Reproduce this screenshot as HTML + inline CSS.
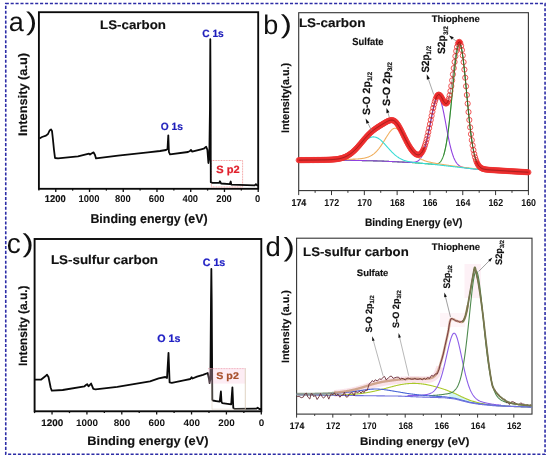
<!DOCTYPE html>
<html><head><meta charset="utf-8"><style>
html,body{margin:0;padding:0;background:#fff;}
svg{display:block;will-change:transform;}
text{font-family:"Liberation Sans", sans-serif;text-rendering:geometricPrecision;}
</style></head><body>
<svg width="550" height="459" viewBox="0 0 550 459">
<rect x="0" y="0" width="550" height="459" fill="#fff"/>

<rect class="deco" x="5.75" y="3.55" width="539.3" height="450.75" fill="none" stroke="#2c2ca6" stroke-width="1.6" stroke-dasharray="3.1 1.8"/>
<text class="plbl" x="8.8" y="30.5" font-size="27" fill="#111">a</text>
<text class="plbl" transform="translate(25.9,30.0) scale(1.3,1)" font-size="25.6" fill="#111">)</text>
<text class="plbl" x="263.2" y="33.9" font-size="27" fill="#111">b</text>
<text class="plbl" transform="translate(280.8,33.2) scale(1.3,1)" font-size="25.8" fill="#111">)</text>
<text class="plbl" x="6.7" y="252.6" font-size="28" fill="#111">c</text>
<text class="plbl" transform="translate(22.5,252.0) scale(1.3,1)" font-size="25.8" fill="#111">)</text>
<text class="plbl" x="265.5" y="256.4" font-size="27.5" fill="#111">d</text>
<text class="plbl" transform="translate(283.5,256.4) scale(1.3,1)" font-size="26.2" fill="#111">)</text>
<rect x="38.9" y="12.2" width="219.29999999999998" height="176.60000000000002" fill="none" stroke="#0a0a0a" stroke-width="1.85"/>
<line x1="258.20" y1="188.8" x2="258.20" y2="192.0" stroke="#111" stroke-width="1.3"/>
<line x1="241.33" y1="188.8" x2="241.33" y2="190.60000000000002" stroke="#111" stroke-width="1.3"/>
<line x1="224.46" y1="188.8" x2="224.46" y2="192.0" stroke="#111" stroke-width="1.3"/>
<line x1="207.59" y1="188.8" x2="207.59" y2="190.60000000000002" stroke="#111" stroke-width="1.3"/>
<line x1="190.72" y1="188.8" x2="190.72" y2="192.0" stroke="#111" stroke-width="1.3"/>
<line x1="173.85" y1="188.8" x2="173.85" y2="190.60000000000002" stroke="#111" stroke-width="1.3"/>
<line x1="156.98" y1="188.8" x2="156.98" y2="192.0" stroke="#111" stroke-width="1.3"/>
<line x1="140.12" y1="188.8" x2="140.12" y2="190.60000000000002" stroke="#111" stroke-width="1.3"/>
<line x1="123.25" y1="188.8" x2="123.25" y2="192.0" stroke="#111" stroke-width="1.3"/>
<line x1="106.38" y1="188.8" x2="106.38" y2="190.60000000000002" stroke="#111" stroke-width="1.3"/>
<line x1="89.51" y1="188.8" x2="89.51" y2="192.0" stroke="#111" stroke-width="1.3"/>
<line x1="72.64" y1="188.8" x2="72.64" y2="190.60000000000002" stroke="#111" stroke-width="1.3"/>
<line x1="55.77" y1="188.8" x2="55.77" y2="192.0" stroke="#111" stroke-width="1.3"/>
<line x1="38.90" y1="188.8" x2="38.90" y2="190.60000000000002" stroke="#111" stroke-width="1.3"/>
<text class="lbl" transform="translate(257.73,202.34) scale(0.9509,1)" font-size="9.9" font-weight="bold" fill="#111" text-anchor="middle">0</text>
<text class="lbl" transform="translate(223.99,202.34) scale(0.9509,1)" font-size="9.9" font-weight="bold" fill="#111" text-anchor="middle">200</text>
<text class="lbl" transform="translate(190.25,202.34) scale(0.9509,1)" font-size="9.9" font-weight="bold" fill="#111" text-anchor="middle">400</text>
<text class="lbl" transform="translate(156.52,202.34) scale(0.9509,1)" font-size="9.9" font-weight="bold" fill="#111" text-anchor="middle">600</text>
<text class="lbl" transform="translate(122.78,202.34) scale(0.9509,1)" font-size="9.9" font-weight="bold" fill="#111" text-anchor="middle">800</text>
<text class="lbl" transform="translate(89.04,202.34) scale(0.9509,1)" font-size="9.9" font-weight="bold" fill="#111" text-anchor="middle">1000</text>
<text id="a_t1200" class="lbl" transform="translate(55.30,202.34) scale(0.9509,1)" font-size="9.9" font-weight="bold" fill="#111" stroke="#111" stroke-width="0.16" text-anchor="middle">1200</text>
<text id="a_title" class="lbl" transform="translate(100.10,29.06) scale(1.0747,1)" font-size="12.4" font-weight="bold" fill="#111" stroke="#111" stroke-width="0.16">LS-carbon</text>
<text id="a_c1s" class="lbl" transform="translate(202.34,36.61) scale(0.9645,1)" font-size="10.5" font-weight="bold" fill="#1e1eba" stroke="#1e1eba" stroke-width="0.22">C 1s</text>
<text id="a_o1s" class="lbl" transform="translate(160.78,129.97) scale(0.9699,1)" font-size="10.5" font-weight="bold" fill="#1e1eba" stroke="#1e1eba" stroke-width="0.22">O 1s</text>
<text id="a_xl" class="lbl" transform="translate(90.39,222.89) scale(0.9701,1)" font-size="12.8" font-weight="bold" fill="#111" stroke="#111" stroke-width="0.16">Binding energy (eV)</text>
<text id="a_yl" class="lbl" transform="translate(27.25,136.08) rotate(-90) scale(1.0326,1)" font-size="12.4" font-weight="bold" fill="#111" stroke="#111" stroke-width="0.16">Intensity (a.u)</text>
<rect x="211.4" y="160.5" width="31.2" height="26.5" fill="none" stroke="#f08a8a" stroke-width="0.8" stroke-dasharray="1 0.6"/>
<text id="a_sp2" class="lbl" transform="translate(216.25,172.97) scale(1.0516,1)" font-size="10.5" font-weight="bold" fill="#e0202c" stroke="#e0202c" stroke-width="0.22">S p2</text>
<polyline points="39.50,138.50 42.00,137.00 46.00,135.60 48.00,134.00 49.60,130.50 51.00,129.40 52.00,131.00 53.00,140.00 54.00,150.00 55.00,158.00 58.00,158.40 78.00,156.40 86.00,154.40 89.00,153.60 90.00,154.50 91.50,153.50 93.60,152.40 95.00,155.00 96.00,158.40 118.00,155.60 148.00,152.40 160.00,151.00 166.00,150.00 167.50,149.00 168.30,135.40 168.90,152.00 170.00,154.40 188.00,152.00 190.00,151.00 191.00,150.00 192.00,151.60 201.20,149.30 203.70,148.70 206.20,146.80 207.40,149.90 208.40,163.00 209.30,157.40 209.95,110.00 210.30,39.20 210.65,110.00 210.80,182.20 212.40,182.80 219.20,182.80 219.90,181.30 221.10,183.50 229.80,184.10 230.70,181.50 231.30,184.70 254.70,185.30 255.90,184.10 257.10,185.30 258.00,185.30" fill="none" stroke="#0a0a0a" stroke-width="1.8" stroke-linejoin="round"/>
<rect x="34.6" y="239.0" width="226.70000000000002" height="172.3" fill="none" stroke="#0a0a0a" stroke-width="1.9"/>
<line x1="261.30" y1="411.3" x2="261.30" y2="414.5" stroke="#111" stroke-width="1.3"/>
<line x1="243.86" y1="411.3" x2="243.86" y2="413.1" stroke="#111" stroke-width="1.3"/>
<line x1="226.42" y1="411.3" x2="226.42" y2="414.5" stroke="#111" stroke-width="1.3"/>
<line x1="208.98" y1="411.3" x2="208.98" y2="413.1" stroke="#111" stroke-width="1.3"/>
<line x1="191.55" y1="411.3" x2="191.55" y2="414.5" stroke="#111" stroke-width="1.3"/>
<line x1="174.11" y1="411.3" x2="174.11" y2="413.1" stroke="#111" stroke-width="1.3"/>
<line x1="156.67" y1="411.3" x2="156.67" y2="414.5" stroke="#111" stroke-width="1.3"/>
<line x1="139.23" y1="411.3" x2="139.23" y2="413.1" stroke="#111" stroke-width="1.3"/>
<line x1="121.79" y1="411.3" x2="121.79" y2="414.5" stroke="#111" stroke-width="1.3"/>
<line x1="104.35" y1="411.3" x2="104.35" y2="413.1" stroke="#111" stroke-width="1.3"/>
<line x1="86.92" y1="411.3" x2="86.92" y2="414.5" stroke="#111" stroke-width="1.3"/>
<line x1="69.48" y1="411.3" x2="69.48" y2="413.1" stroke="#111" stroke-width="1.3"/>
<line x1="52.04" y1="411.3" x2="52.04" y2="414.5" stroke="#111" stroke-width="1.3"/>
<line x1="34.60" y1="411.3" x2="34.60" y2="413.1" stroke="#111" stroke-width="1.3"/>
<text class="lbl" transform="translate(261.46,425.56) scale(1.0416,1)" font-size="9.5" font-weight="bold" fill="#111" text-anchor="middle">0</text>
<text class="lbl" transform="translate(226.58,425.56) scale(1.0416,1)" font-size="9.5" font-weight="bold" fill="#111" text-anchor="middle">200</text>
<text class="lbl" transform="translate(191.71,425.56) scale(1.0416,1)" font-size="9.5" font-weight="bold" fill="#111" text-anchor="middle">400</text>
<text class="lbl" transform="translate(156.83,425.56) scale(1.0416,1)" font-size="9.5" font-weight="bold" fill="#111" text-anchor="middle">600</text>
<text class="lbl" transform="translate(121.95,425.56) scale(1.0416,1)" font-size="9.5" font-weight="bold" fill="#111" text-anchor="middle">800</text>
<text class="lbl" transform="translate(87.08,425.56) scale(1.0416,1)" font-size="9.5" font-weight="bold" fill="#111" text-anchor="middle">1000</text>
<text id="c_t1200" class="lbl" transform="translate(52.20,425.56) scale(1.0416,1)" font-size="9.5" font-weight="bold" fill="#111" stroke="#111" stroke-width="0.16" text-anchor="middle">1200</text>
<text id="c_title" class="lbl" transform="translate(50.90,263.89) scale(1.0630,1)" font-size="12.6" font-weight="bold" fill="#111" stroke="#111" stroke-width="0.16">LS-sulfur carbon</text>
<text id="c_c1s" class="lbl" transform="translate(202.75,266.31) scale(0.9887,1)" font-size="10.8" font-weight="bold" fill="#2020c4" stroke="#2020c4" stroke-width="0.22">C 1s</text>
<text id="c_o1s" class="lbl" transform="translate(157.29,342.13) scale(0.9919,1)" font-size="10.8" font-weight="bold" fill="#2020c4" stroke="#2020c4" stroke-width="0.22">O 1s</text>
<text id="c_xl" class="lbl" transform="translate(87.36,444.86) scale(1.0353,1)" font-size="12.4" font-weight="bold" fill="#111" stroke="#111" stroke-width="0.16">Binding energy (eV)</text>
<text id="c_yl" class="lbl" transform="translate(26.95,366.03) rotate(-90) scale(0.9886,1)" font-size="12.0" font-weight="bold" fill="#111" stroke="#111" stroke-width="0.16">Intensity (a.u.)</text>
<polyline points="34.80,379.70 40.90,379.70 45.30,376.30 47.00,374.70 48.50,377.00 50.70,387.80 51.80,390.70 62.70,390.00 84.50,386.30 86.00,385.00 87.20,384.10 88.50,386.30 91.10,383.50 93.30,388.90 95.50,389.30 117.30,386.80 150.00,381.30 158.70,378.40 165.30,377.00 167.00,378.00 168.50,352.90 169.60,382.40 171.80,382.80 185.00,380.10 190.40,379.00 191.60,377.20 192.50,378.50 197.00,376.60 203.00,374.80 207.80,373.00 209.00,379.00 209.60,383.10 210.40,379.00 211.00,300.00 211.35,269.00 211.70,300.00 212.30,399.80 212.80,400.50 216.10,401.10 219.70,401.70 220.90,391.50 221.50,401.70 222.20,403.20 227.60,403.80 231.20,404.40 232.40,387.30 233.30,408.00 234.80,408.90 256.40,408.60 257.60,407.70 259.40,409.00 261.00,409.00" fill="none" stroke="#0a0a0a" stroke-width="1.8" stroke-linejoin="round"/>
<rect x="208.2" y="368.4" width="37.2" height="15.2" fill="#f9c6dc" fill-opacity="0.32"/>
<line x1="208.2" y1="368.6" x2="245.4" y2="368.6" stroke="#eea0b0" stroke-width="0.8" stroke-dasharray="1 0.6"/>
<line x1="245.3" y1="368.4" x2="245.3" y2="409.5" stroke="#d8c8b4" stroke-width="0.8"/>
<line x1="212.0" y1="383.5" x2="212.0" y2="409.5" stroke="#e0d4c8" stroke-width="0.6"/>
<line x1="212.0" y1="409.2" x2="245.3" y2="409.2" stroke="#e0d4c8" stroke-width="0.6"/>
<text id="c_sp2" class="lbl" transform="translate(216.28,379.43) scale(1.0891,1)" font-size="9.8" font-weight="bold" fill="#a8522e" stroke="#a8522e" stroke-width="0.22">S p2</text>
<rect x="298.7" y="12.7" width="229.7" height="177.9" fill="none" stroke="#333" stroke-width="1.1"/>
<line x1="528.40" y1="190.6" x2="528.40" y2="195.1" stroke="#333" stroke-width="1.0"/>
<line x1="511.99" y1="190.6" x2="511.99" y2="192.79999999999998" stroke="#333" stroke-width="1.0"/>
<line x1="495.59" y1="190.6" x2="495.59" y2="195.1" stroke="#333" stroke-width="1.0"/>
<line x1="479.18" y1="190.6" x2="479.18" y2="192.79999999999998" stroke="#333" stroke-width="1.0"/>
<line x1="462.77" y1="190.6" x2="462.77" y2="195.1" stroke="#333" stroke-width="1.0"/>
<line x1="446.36" y1="190.6" x2="446.36" y2="192.79999999999998" stroke="#333" stroke-width="1.0"/>
<line x1="429.96" y1="190.6" x2="429.96" y2="195.1" stroke="#333" stroke-width="1.0"/>
<line x1="413.55" y1="190.6" x2="413.55" y2="192.79999999999998" stroke="#333" stroke-width="1.0"/>
<line x1="397.14" y1="190.6" x2="397.14" y2="195.1" stroke="#333" stroke-width="1.0"/>
<line x1="380.74" y1="190.6" x2="380.74" y2="192.79999999999998" stroke="#333" stroke-width="1.0"/>
<line x1="364.33" y1="190.6" x2="364.33" y2="195.1" stroke="#333" stroke-width="1.0"/>
<line x1="347.92" y1="190.6" x2="347.92" y2="192.79999999999998" stroke="#333" stroke-width="1.0"/>
<line x1="331.51" y1="190.6" x2="331.51" y2="195.1" stroke="#333" stroke-width="1.0"/>
<line x1="315.11" y1="190.6" x2="315.11" y2="192.79999999999998" stroke="#333" stroke-width="1.0"/>
<line x1="298.70" y1="190.6" x2="298.70" y2="195.1" stroke="#333" stroke-width="1.0"/>
<text class="lbl" transform="translate(528.60,206.48) scale(0.8868,1)" font-size="10.0" font-weight="bold" fill="#111" text-anchor="middle">160</text>
<text class="lbl" transform="translate(495.79,206.48) scale(0.8868,1)" font-size="10.0" font-weight="bold" fill="#111" text-anchor="middle">162</text>
<text class="lbl" transform="translate(462.97,206.48) scale(0.8868,1)" font-size="10.0" font-weight="bold" fill="#111" text-anchor="middle">164</text>
<text class="lbl" transform="translate(430.16,206.48) scale(0.8868,1)" font-size="10.0" font-weight="bold" fill="#111" text-anchor="middle">166</text>
<text class="lbl" transform="translate(397.34,206.48) scale(0.8868,1)" font-size="10.0" font-weight="bold" fill="#111" text-anchor="middle">168</text>
<text class="lbl" transform="translate(364.53,206.48) scale(0.8868,1)" font-size="10.0" font-weight="bold" fill="#111" text-anchor="middle">170</text>
<text class="lbl" transform="translate(331.71,206.48) scale(0.8868,1)" font-size="10.0" font-weight="bold" fill="#111" text-anchor="middle">172</text>
<text id="b_t174" class="lbl" transform="translate(298.90,206.48) scale(0.8868,1)" font-size="10.0" font-weight="bold" fill="#111" stroke="#111" stroke-width="0.16" text-anchor="middle">174</text>
<text id="b_title" class="lbl" transform="translate(298.90,27.36) scale(1.0858,1)" font-size="12.4" font-weight="bold" fill="#111" stroke="#111" stroke-width="0.16">LS-carbon</text>
<text id="b_sulf" class="lbl" transform="translate(352.36,44.81) scale(0.9185,1)" font-size="10.2" font-weight="bold" fill="#111" stroke="#111" stroke-width="0.16">Sulfate</text>
<text id="b_thio" class="lbl" transform="translate(431.70,21.66) scale(1.0141,1)" font-size="9.4" font-weight="bold" fill="#111" stroke="#111" stroke-width="0.16">Thiophene</text>
<text id="b_xl" class="lbl" transform="translate(364.89,225.96) scale(0.9373,1)" font-size="10.9" font-weight="bold" fill="#111" stroke="#111" stroke-width="0.16">Binding Energy (eV)</text>
<text id="b_yl" class="lbl" transform="translate(288.68,133.02) rotate(-90) scale(0.9804,1)" font-size="11.0" font-weight="bold" fill="#111" stroke="#111" stroke-width="0.16">Intensity(a.u.)</text>
<text id="b_so12" class="lbl" transform="translate(369.76,115.00) rotate(-90) scale(1.0016,1)" font-size="10.5" font-weight="bold" fill="#111" stroke="#111" stroke-width="0.16">S-O 2p<tspan font-size="6.6" dy="2.3">1/2</tspan></text>
<text id="b_so32" class="lbl" transform="translate(389.56,106.06) rotate(-90) scale(1.0260,1)" font-size="10.5" font-weight="bold" fill="#111" stroke="#111" stroke-width="0.16">S-O 2p<tspan font-size="6.6" dy="2.3">3/2</tspan></text>
<text id="b_s12" class="lbl" transform="translate(429.12,72.61) rotate(-90) scale(0.9446,1)" font-size="10.5" font-weight="bold" fill="#111" stroke="#111" stroke-width="0.16">S2p<tspan font-size="6.6" dy="2.3">1/2</tspan></text>
<text id="b_s32" class="lbl" transform="translate(445.44,54.00) rotate(-90) scale(0.9805,1)" font-size="10.5" font-weight="bold" fill="#111" stroke="#111" stroke-width="0.16">S2p<tspan font-size="6.6" dy="2.3">3/2</tspan></text>
<polyline points="298.70,160.40 299.03,160.40 299.36,160.40 299.68,160.40 300.01,160.40 300.34,160.40 300.67,160.40 301.00,160.40 301.33,160.39 301.65,160.39 301.98,160.39 302.31,160.39 302.64,160.39 302.97,160.39 303.29,160.39 303.62,160.39 303.95,160.39 304.28,160.39 304.61,160.39 304.93,160.39 305.26,160.39 305.59,160.39 305.92,160.39 306.25,160.39 306.58,160.38 306.90,160.38 307.23,160.38 307.56,160.38 307.89,160.38 308.22,160.38 308.54,160.38 308.87,160.38 309.20,160.38 309.53,160.38 309.86,160.38 310.18,160.38 310.51,160.38 310.84,160.38 311.17,160.38 311.50,160.38 311.83,160.37 312.15,160.37 312.48,160.37 312.81,160.37 313.14,160.37 313.47,160.37 313.79,160.37 314.12,160.37 314.45,160.37 314.78,160.37 315.11,160.37 315.44,160.37 315.76,160.37 316.09,160.37 316.42,160.37 316.75,160.36 317.08,160.36 317.40,160.36 317.73,160.36 318.06,160.36 318.39,160.36 318.72,160.36 319.04,160.36 319.37,160.36 319.70,160.36 320.03,160.36 320.36,160.36 320.69,160.36 321.01,160.36 321.34,160.36 321.67,160.36 322.00,160.35 322.33,160.35 322.65,160.35 322.98,160.35 323.31,160.35 323.64,160.35 323.97,160.35 324.30,160.35 324.62,160.35 324.95,160.35 325.28,160.35 325.61,160.35 325.94,160.35 326.26,160.35 326.59,160.35 326.92,160.34 327.25,160.34 327.58,160.34 327.90,160.34 328.23,160.34 328.56,160.34 328.89,160.34 329.22,160.34 329.55,160.34 329.87,160.34 330.20,160.34 330.53,160.34 330.86,160.34 331.19,160.34 331.51,160.34 331.84,160.34 332.17,160.33 332.50,160.33 332.83,160.33 333.15,160.33 333.48,160.33 333.81,160.33 334.14,160.33 334.47,160.33 334.80,160.33 335.12,160.33 335.45,160.33 335.78,160.33 336.11,160.33 336.44,160.33 336.76,160.33 337.09,160.33 337.42,160.32 337.75,160.32 338.08,160.32 338.41,160.32 338.73,160.32 339.06,160.32 339.39,160.32 339.72,160.32 340.05,160.32 340.37,160.32 340.70,160.32 341.03,160.32 341.36,160.32 341.69,160.32 342.01,160.32 342.34,160.31 342.67,160.31 343.00,160.31 343.33,160.31 343.66,160.31 343.98,160.31 344.31,160.31 344.64,160.31 344.97,160.31 345.30,160.31 345.62,160.31 345.95,160.31 346.28,160.31 346.61,160.31 346.94,160.31 347.27,160.31 347.59,160.30 347.92,160.30 348.25,160.30 348.58,160.30 348.91,160.30 349.23,160.30 349.56,160.30 349.89,160.30 350.22,160.31 350.55,160.31 350.87,160.32 351.20,160.33 351.53,160.34 351.86,160.34 352.19,160.35 352.52,160.36 352.84,160.37 353.17,160.37 353.50,160.38 353.83,160.39 354.16,160.40 354.48,160.40 354.81,160.41 355.14,160.42 355.47,160.43 355.80,160.43 356.12,160.44 356.45,160.45 356.78,160.46 357.11,160.46 357.44,160.47 357.77,160.48 358.09,160.49 358.42,160.49 358.75,160.50 359.08,160.51 359.41,160.52 359.73,160.52 360.06,160.53 360.39,160.54 360.72,160.55 361.05,160.55 361.38,160.56 361.70,160.57 362.03,160.58 362.36,160.58 362.69,160.59 363.02,160.60 363.34,160.61 363.67,160.61 364.00,160.62 364.33,160.63 364.66,160.64 364.98,160.64 365.31,160.65 365.64,160.66 365.97,160.67 366.30,160.67 366.63,160.68 366.95,160.69 367.28,160.70 367.61,160.70 367.94,160.71 368.27,160.72 368.59,160.73 368.92,160.73 369.25,160.74 369.58,160.75 369.91,160.76 370.24,160.76 370.56,160.77 370.89,160.78 371.22,160.79 371.55,160.79 371.88,160.80 372.20,160.81 372.53,160.82 372.86,160.82 373.19,160.83 373.52,160.84 373.84,160.85 374.17,160.85 374.50,160.86 374.83,160.87 375.16,160.88 375.49,160.88 375.81,160.89 376.14,160.90 376.47,160.91 376.80,160.92 377.13,160.92 377.45,160.93 377.78,160.94 378.11,160.95 378.44,160.95 378.77,160.96 379.10,160.97 379.42,160.98 379.75,160.98 380.08,160.99 380.41,161.00 380.74,161.01 381.06,161.03 381.39,161.04 381.72,161.06 382.05,161.08 382.38,161.09 382.70,161.11 383.03,161.12 383.36,161.14 383.69,161.16 384.02,161.17 384.35,161.19 384.67,161.21 385.00,161.22 385.33,161.24 385.66,161.25 385.99,161.27 386.31,161.29 386.64,161.30 386.97,161.32 387.30,161.33 387.63,161.35 387.95,161.37 388.28,161.38 388.61,161.40 388.94,161.42 389.27,161.43 389.60,161.45 389.92,161.46 390.25,161.48 390.58,161.50 390.91,161.51 391.24,161.53 391.56,161.54 391.89,161.56 392.22,161.58 392.55,161.59 392.88,161.61 393.21,161.62 393.53,161.64 393.86,161.66 394.19,161.67 394.52,161.69 394.85,161.71 395.17,161.72 395.50,161.74 395.83,161.75 396.16,161.77 396.49,161.79 396.81,161.80 397.14,161.82 397.47,161.83 397.80,161.85 398.13,161.87 398.46,161.88 398.78,161.90 399.11,161.92 399.44,161.93 399.77,161.95 400.10,161.96 400.42,161.98 400.75,162.00 401.08,162.01 401.41,162.03 401.74,162.04 402.07,162.06 402.39,162.08 402.72,162.09 403.05,162.11 403.38,162.13 403.71,162.14 404.03,162.16 404.36,162.17 404.69,162.19 405.02,162.21 405.35,162.22 405.67,162.24 406.00,162.25 406.33,162.27 406.66,162.29 406.99,162.30 407.32,162.32 407.64,162.33 407.97,162.35 408.30,162.37 408.63,162.38 408.96,162.40 409.28,162.42 409.61,162.43 409.94,162.45 410.27,162.46 410.60,162.48 410.92,162.50 411.25,162.52 411.58,162.55 411.91,162.57 412.24,162.60 412.57,162.62 412.89,162.65 413.22,162.68 413.55,162.70 413.88,162.73 414.21,162.75 414.53,162.78 414.86,162.80 415.19,162.83 415.52,162.86 415.85,162.88 416.18,162.91 416.50,162.93 416.83,162.96 417.16,162.99 417.49,163.01 417.82,163.04 418.14,163.06 418.47,163.09 418.80,163.12 419.13,163.14 419.46,163.17 419.78,163.19 420.11,163.22 420.44,163.25 420.77,163.27 421.10,163.30 421.43,163.32 421.75,163.35 422.08,163.37 422.41,163.40 422.74,163.43 423.07,163.45 423.39,163.48 423.72,163.50 424.05,163.53 424.38,163.56 424.71,163.58 425.03,163.61 425.36,163.63 425.69,163.66 426.02,163.68 426.35,163.71 426.68,163.73 427.00,163.76 427.33,163.78 427.66,163.81 427.99,163.83 428.32,163.86 428.64,163.88 428.97,163.91 429.30,163.93 429.63,163.95 429.96,163.97 430.29,164.00 430.61,164.04 430.94,164.07 431.27,164.10 431.60,164.12 431.93,164.15 432.25,164.17 432.58,164.19 432.91,164.21 433.24,164.23 433.57,164.24 433.89,164.25 434.22,164.25 434.55,164.25 434.88,164.24 435.21,164.22 435.54,164.19 435.86,164.16 436.19,164.11 436.52,164.06 436.85,163.98 437.18,163.90 437.50,163.80 437.83,163.67 438.16,163.53 438.49,163.36 438.82,163.17 439.15,162.95 439.47,162.69 439.80,162.41 440.13,162.08 440.46,161.71 440.79,161.30 441.11,160.84 441.44,160.33 441.77,159.75 442.10,159.12 442.43,158.42 442.75,157.66 443.08,156.81 443.41,155.89 443.74,154.89 444.07,153.80 444.40,152.61 444.72,151.33 445.05,149.95 445.38,148.46 445.71,146.87 446.04,145.17 446.36,143.36 446.69,141.43 447.02,139.39 447.35,137.23 447.68,134.95 448.00,132.56 448.33,130.06 448.66,127.44 448.99,124.72 449.32,121.89 449.65,118.97 449.97,115.95 450.30,112.85 450.63,109.67 450.96,106.43 451.29,103.13 451.61,99.79 451.94,96.41 452.27,93.02 452.60,89.62 452.93,86.23 453.26,82.86 453.58,79.53 453.91,76.26 454.24,73.06 454.57,69.96 454.90,66.95 455.22,64.07 455.55,61.33 455.88,58.74 456.21,56.32 456.54,54.08 456.86,52.04 457.19,50.21 457.52,48.60 457.85,47.22 458.18,46.08 458.51,45.18 458.83,44.54 459.16,44.15 459.49,44.02 459.82,44.16 460.15,44.55 460.47,45.20 460.80,46.11 461.13,47.26 461.46,48.65 461.79,50.28 462.12,52.13 462.44,54.19 462.77,56.45 463.10,58.90 463.43,61.52 463.76,64.30 464.08,67.22 464.41,70.27 464.74,73.43 465.07,76.68 465.40,80.00 465.72,83.39 466.05,86.82 466.38,90.28 466.71,93.76 467.04,97.23 467.37,100.68 467.69,104.11 468.02,107.50 468.35,110.83 468.68,114.10 469.01,117.29 469.33,120.41 469.66,123.43 469.99,126.36 470.32,129.18 470.65,131.90 470.98,134.51 471.30,137.00 471.63,139.38 471.96,141.65 472.29,143.79 472.62,145.82 472.94,147.74 473.27,149.55 473.60,151.24 473.93,152.83 474.26,154.31 474.58,155.69 474.91,156.97 475.24,158.16 475.57,159.26 475.90,160.28 476.23,161.21 476.55,162.05 476.88,162.83 477.21,163.54 477.54,164.19 477.87,164.78 478.19,165.31 478.52,165.80 478.85,166.24 479.18,166.63 479.51,166.99 479.83,167.31 480.16,167.60 480.49,167.86 480.82,168.10 481.15,168.31 481.48,168.50 481.80,168.67 482.13,168.82 482.46,168.95 482.79,169.07 483.12,169.18 483.44,169.28 483.77,169.37 484.10,169.45 484.43,169.52 484.76,169.59 485.09,169.65 485.41,169.70 485.74,169.75 486.07,169.80 486.40,169.84 486.73,169.88 487.05,169.92 487.38,169.95 487.71,169.99 488.04,170.02 488.37,170.05 488.69,170.08 489.02,170.11 489.35,170.13 489.68,170.16 490.01,170.19 490.34,170.21 490.66,170.23 490.99,170.25 491.32,170.27 491.65,170.29 491.98,170.31 492.30,170.33 492.63,170.35 492.96,170.37 493.29,170.39 493.62,170.41 493.95,170.42 494.27,170.44 494.60,170.46 494.93,170.48 495.26,170.50 495.59,170.52 495.91,170.54 496.24,170.56 496.57,170.58 496.90,170.60 497.23,170.61 497.55,170.63 497.88,170.65 498.21,170.67 498.54,170.69 498.87,170.71 499.20,170.73 499.52,170.75 499.85,170.76 500.18,170.78 500.51,170.80 500.84,170.82 501.16,170.84 501.49,170.86 501.82,170.88 502.15,170.90 502.48,170.91 502.80,170.93 503.13,170.95 503.46,170.97 503.79,170.99 504.12,171.01 504.45,171.03 504.77,171.05 505.10,171.07 505.43,171.08 505.76,171.10 506.09,171.12 506.41,171.14 506.74,171.16 507.07,171.18 507.40,171.20 507.73,171.22 508.06,171.23 508.38,171.25 508.71,171.27 509.04,171.29 509.37,171.31 509.70,171.33 510.02,171.35 510.35,171.37 510.68,171.38 511.01,171.40 511.34,171.42 511.66,171.44 511.99,171.46 512.32,171.48 512.65,171.50 512.98,171.52 513.31,171.54 513.63,171.55 513.96,171.57 514.29,171.59 514.62,171.61 514.95,171.63 515.27,171.65 515.60,171.67 515.93,171.69 516.26,171.70 516.59,171.72 516.92,171.74 517.24,171.76 517.57,171.78 517.90,171.80 518.23,171.82 518.56,171.84 518.88,171.85 519.21,171.87 519.54,171.89 519.87,171.91 520.20,171.93 520.52,171.95 520.85,171.97 521.18,171.99 521.51,172.01 521.84,172.02 522.17,172.04 522.49,172.06 522.82,172.08 523.15,172.10 523.48,172.12 523.81,172.14 524.13,172.16 524.46,172.17 524.79,172.19 525.12,172.21 525.45,172.23 525.77,172.25 526.10,172.27 526.43,172.29 526.76,172.31 527.09,172.32 527.42,172.34 527.74,172.36 528.07,172.38 528.40,172.40" fill="none" stroke="#3a983a" stroke-width="1.1"/>
<polyline points="298.70,160.40 299.03,160.40 299.36,160.40 299.68,160.40 300.01,160.40 300.34,160.40 300.67,160.40 301.00,160.40 301.33,160.39 301.65,160.39 301.98,160.39 302.31,160.39 302.64,160.39 302.97,160.39 303.29,160.39 303.62,160.39 303.95,160.39 304.28,160.39 304.61,160.39 304.93,160.39 305.26,160.39 305.59,160.39 305.92,160.39 306.25,160.39 306.58,160.38 306.90,160.38 307.23,160.38 307.56,160.38 307.89,160.38 308.22,160.38 308.54,160.38 308.87,160.38 309.20,160.38 309.53,160.38 309.86,160.38 310.18,160.38 310.51,160.38 310.84,160.38 311.17,160.38 311.50,160.38 311.83,160.37 312.15,160.37 312.48,160.37 312.81,160.37 313.14,160.37 313.47,160.37 313.79,160.37 314.12,160.37 314.45,160.37 314.78,160.37 315.11,160.37 315.44,160.37 315.76,160.37 316.09,160.37 316.42,160.37 316.75,160.36 317.08,160.36 317.40,160.36 317.73,160.36 318.06,160.36 318.39,160.36 318.72,160.36 319.04,160.36 319.37,160.36 319.70,160.36 320.03,160.36 320.36,160.36 320.69,160.36 321.01,160.36 321.34,160.36 321.67,160.36 322.00,160.35 322.33,160.35 322.65,160.35 322.98,160.35 323.31,160.35 323.64,160.35 323.97,160.35 324.30,160.35 324.62,160.35 324.95,160.35 325.28,160.35 325.61,160.35 325.94,160.35 326.26,160.35 326.59,160.35 326.92,160.34 327.25,160.34 327.58,160.34 327.90,160.34 328.23,160.34 328.56,160.34 328.89,160.34 329.22,160.34 329.55,160.34 329.87,160.34 330.20,160.34 330.53,160.34 330.86,160.34 331.19,160.34 331.51,160.34 331.84,160.34 332.17,160.33 332.50,160.33 332.83,160.33 333.15,160.33 333.48,160.33 333.81,160.33 334.14,160.33 334.47,160.33 334.80,160.33 335.12,160.33 335.45,160.33 335.78,160.33 336.11,160.33 336.44,160.33 336.76,160.33 337.09,160.33 337.42,160.32 337.75,160.32 338.08,160.32 338.41,160.32 338.73,160.32 339.06,160.32 339.39,160.32 339.72,160.32 340.05,160.32 340.37,160.32 340.70,160.32 341.03,160.32 341.36,160.32 341.69,160.32 342.01,160.32 342.34,160.31 342.67,160.31 343.00,160.31 343.33,160.31 343.66,160.31 343.98,160.31 344.31,160.31 344.64,160.31 344.97,160.31 345.30,160.31 345.62,160.31 345.95,160.31 346.28,160.31 346.61,160.31 346.94,160.31 347.27,160.31 347.59,160.30 347.92,160.30 348.25,160.30 348.58,160.30 348.91,160.30 349.23,160.30 349.56,160.30 349.89,160.30 350.22,160.31 350.55,160.31 350.87,160.32 351.20,160.33 351.53,160.34 351.86,160.34 352.19,160.35 352.52,160.36 352.84,160.37 353.17,160.37 353.50,160.38 353.83,160.39 354.16,160.40 354.48,160.40 354.81,160.41 355.14,160.42 355.47,160.43 355.80,160.43 356.12,160.44 356.45,160.45 356.78,160.46 357.11,160.46 357.44,160.47 357.77,160.48 358.09,160.49 358.42,160.49 358.75,160.50 359.08,160.51 359.41,160.52 359.73,160.52 360.06,160.53 360.39,160.54 360.72,160.55 361.05,160.55 361.38,160.56 361.70,160.57 362.03,160.58 362.36,160.58 362.69,160.59 363.02,160.60 363.34,160.61 363.67,160.61 364.00,160.62 364.33,160.63 364.66,160.64 364.98,160.64 365.31,160.65 365.64,160.66 365.97,160.67 366.30,160.67 366.63,160.68 366.95,160.69 367.28,160.70 367.61,160.70 367.94,160.71 368.27,160.72 368.59,160.73 368.92,160.73 369.25,160.74 369.58,160.75 369.91,160.76 370.24,160.76 370.56,160.77 370.89,160.78 371.22,160.79 371.55,160.79 371.88,160.80 372.20,160.81 372.53,160.82 372.86,160.82 373.19,160.83 373.52,160.84 373.84,160.85 374.17,160.85 374.50,160.86 374.83,160.87 375.16,160.88 375.49,160.88 375.81,160.89 376.14,160.90 376.47,160.91 376.80,160.92 377.13,160.92 377.45,160.93 377.78,160.94 378.11,160.95 378.44,160.95 378.77,160.96 379.10,160.97 379.42,160.98 379.75,160.98 380.08,160.99 380.41,161.00 380.74,161.01 381.06,161.03 381.39,161.04 381.72,161.06 382.05,161.08 382.38,161.09 382.70,161.11 383.03,161.12 383.36,161.14 383.69,161.16 384.02,161.17 384.35,161.19 384.67,161.21 385.00,161.22 385.33,161.24 385.66,161.25 385.99,161.27 386.31,161.29 386.64,161.30 386.97,161.32 387.30,161.33 387.63,161.35 387.95,161.37 388.28,161.38 388.61,161.40 388.94,161.42 389.27,161.43 389.60,161.45 389.92,161.46 390.25,161.48 390.58,161.50 390.91,161.51 391.24,161.53 391.56,161.54 391.89,161.56 392.22,161.58 392.55,161.59 392.88,161.61 393.21,161.62 393.53,161.64 393.86,161.66 394.19,161.67 394.52,161.69 394.85,161.71 395.17,161.72 395.50,161.74 395.83,161.75 396.16,161.77 396.49,161.79 396.81,161.80 397.14,161.82 397.47,161.83 397.80,161.85 398.13,161.87 398.46,161.88 398.78,161.90 399.11,161.92 399.44,161.93 399.77,161.95 400.10,161.96 400.42,161.98 400.75,162.00 401.08,162.01 401.41,162.03 401.74,162.04 402.07,162.06 402.39,162.08 402.72,162.09 403.05,162.11 403.38,162.12 403.71,162.14 404.03,162.15 404.36,162.17 404.69,162.18 405.02,162.20 405.35,162.21 405.67,162.23 406.00,162.24 406.33,162.26 406.66,162.27 406.99,162.28 407.32,162.30 407.64,162.31 407.97,162.32 408.30,162.33 408.63,162.34 408.96,162.35 409.28,162.35 409.61,162.36 409.94,162.36 410.27,162.37 410.60,162.37 410.92,162.36 411.25,162.37 411.58,162.37 411.91,162.36 412.24,162.36 412.57,162.35 412.89,162.33 413.22,162.31 413.55,162.29 413.88,162.25 414.21,162.21 414.53,162.16 414.86,162.10 415.19,162.03 415.52,161.95 415.85,161.86 416.18,161.75 416.50,161.63 416.83,161.49 417.16,161.33 417.49,161.16 417.82,160.96 418.14,160.75 418.47,160.51 418.80,160.24 419.13,159.94 419.46,159.62 419.78,159.27 420.11,158.88 420.44,158.45 420.77,157.99 421.10,157.50 421.43,156.96 421.75,156.37 422.08,155.75 422.41,155.07 422.74,154.35 423.07,153.58 423.39,152.76 423.72,151.89 424.05,150.97 424.38,149.99 424.71,148.96 425.03,147.87 425.36,146.73 425.69,145.54 426.02,144.29 426.35,143.00 426.68,141.65 427.00,140.25 427.33,138.80 427.66,137.31 427.99,135.78 428.32,134.21 428.64,132.61 428.97,130.97 429.30,129.31 429.63,127.63 429.96,125.93 430.29,124.24 430.61,122.54 430.94,120.84 431.27,119.15 431.60,117.47 431.93,115.82 432.25,114.20 432.58,112.61 432.91,111.06 433.24,109.57 433.57,108.13 433.89,106.76 434.22,105.45 434.55,104.23 434.88,103.08 435.21,102.03 435.54,101.07 435.86,100.21 436.19,99.46 436.52,98.82 436.85,98.28 437.18,97.87 437.50,97.57 437.83,97.39 438.16,97.33 438.49,97.39 438.82,97.58 439.15,97.88 439.47,98.31 439.80,98.85 440.13,99.50 440.46,100.27 440.79,101.14 441.11,102.11 441.44,103.19 441.77,104.35 442.10,105.61 442.43,106.94 442.75,108.35 443.08,109.82 443.41,111.36 443.74,112.95 444.07,114.59 444.40,116.27 444.72,117.98 445.05,119.72 445.38,121.48 445.71,123.24 446.04,125.02 446.36,126.79 446.69,128.56 447.02,130.31 447.35,132.05 447.68,133.76 448.00,135.45 448.33,137.10 448.66,138.72 448.99,140.29 449.32,141.83 449.65,143.32 449.97,144.76 450.30,146.15 450.63,147.49 450.96,148.78 451.29,150.01 451.61,151.19 451.94,152.32 452.27,153.39 452.60,154.41 452.93,155.37 453.26,156.29 453.58,157.15 453.91,157.96 454.24,158.72 454.57,159.44 454.90,160.11 455.22,160.74 455.55,161.32 455.88,161.87 456.21,162.37 456.54,162.85 456.86,163.28 457.19,163.69 457.52,164.06 457.85,164.41 458.18,164.73 458.51,165.02 458.83,165.29 459.16,165.54 459.49,165.77 459.82,165.98 460.15,166.17 460.47,166.35 460.80,166.52 461.13,166.67 461.46,166.81 461.79,166.93 462.12,167.05 462.44,167.16 462.77,167.26 463.10,167.36 463.43,167.44 463.76,167.52 464.08,167.60 464.41,167.67 464.74,167.74 465.07,167.80 465.40,167.86 465.72,167.92 466.05,167.97 466.38,168.03 466.71,168.08 467.04,168.12 467.37,168.17 467.69,168.22 468.02,168.26 468.35,168.30 468.68,168.35 469.01,168.39 469.33,168.43 469.66,168.47 469.99,168.51 470.32,168.55 470.65,168.59 470.98,168.63 471.30,168.66 471.63,168.70 471.96,168.74 472.29,168.78 472.62,168.82 472.94,168.85 473.27,168.89 473.60,168.93 473.93,168.97 474.26,169.00 474.58,169.04 474.91,169.08 475.24,169.11 475.57,169.15 475.90,169.19 476.23,169.22 476.55,169.24 476.88,169.26 477.21,169.29 477.54,169.31 477.87,169.33 478.19,169.36 478.52,169.38 478.85,169.40 479.18,169.43 479.51,169.45 479.83,169.47 480.16,169.50 480.49,169.52 480.82,169.54 481.15,169.57 481.48,169.59 481.80,169.61 482.13,169.64 482.46,169.66 482.79,169.68 483.12,169.71 483.44,169.73 483.77,169.76 484.10,169.78 484.43,169.80 484.76,169.83 485.09,169.85 485.41,169.87 485.74,169.90 486.07,169.92 486.40,169.94 486.73,169.97 487.05,169.99 487.38,170.01 487.71,170.04 488.04,170.06 488.37,170.08 488.69,170.11 489.02,170.13 489.35,170.15 489.68,170.18 490.01,170.20 490.34,170.22 490.66,170.24 490.99,170.26 491.32,170.28 491.65,170.29 491.98,170.31 492.30,170.33 492.63,170.35 492.96,170.37 493.29,170.39 493.62,170.41 493.95,170.43 494.27,170.44 494.60,170.46 494.93,170.48 495.26,170.50 495.59,170.52 495.91,170.54 496.24,170.56 496.57,170.58 496.90,170.60 497.23,170.61 497.55,170.63 497.88,170.65 498.21,170.67 498.54,170.69 498.87,170.71 499.20,170.73 499.52,170.75 499.85,170.76 500.18,170.78 500.51,170.80 500.84,170.82 501.16,170.84 501.49,170.86 501.82,170.88 502.15,170.90 502.48,170.91 502.80,170.93 503.13,170.95 503.46,170.97 503.79,170.99 504.12,171.01 504.45,171.03 504.77,171.05 505.10,171.07 505.43,171.08 505.76,171.10 506.09,171.12 506.41,171.14 506.74,171.16 507.07,171.18 507.40,171.20 507.73,171.22 508.06,171.23 508.38,171.25 508.71,171.27 509.04,171.29 509.37,171.31 509.70,171.33 510.02,171.35 510.35,171.37 510.68,171.38 511.01,171.40 511.34,171.42 511.66,171.44 511.99,171.46 512.32,171.48 512.65,171.50 512.98,171.52 513.31,171.54 513.63,171.55 513.96,171.57 514.29,171.59 514.62,171.61 514.95,171.63 515.27,171.65 515.60,171.67 515.93,171.69 516.26,171.70 516.59,171.72 516.92,171.74 517.24,171.76 517.57,171.78 517.90,171.80 518.23,171.82 518.56,171.84 518.88,171.85 519.21,171.87 519.54,171.89 519.87,171.91 520.20,171.93 520.52,171.95 520.85,171.97 521.18,171.99 521.51,172.01 521.84,172.02 522.17,172.04 522.49,172.06 522.82,172.08 523.15,172.10 523.48,172.12 523.81,172.14 524.13,172.16 524.46,172.17 524.79,172.19 525.12,172.21 525.45,172.23 525.77,172.25 526.10,172.27 526.43,172.29 526.76,172.31 527.09,172.32 527.42,172.34 527.74,172.36 528.07,172.38 528.40,172.40" fill="none" stroke="#9040e0" stroke-width="1.1"/>
<polyline points="298.70,160.16 299.03,160.15 299.36,160.15 299.68,160.15 300.01,160.15 300.34,160.14 300.67,160.14 301.00,160.14 301.33,160.14 301.65,160.14 301.98,160.13 302.31,160.13 302.64,160.13 302.97,160.13 303.29,160.12 303.62,160.12 303.95,160.12 304.28,160.12 304.61,160.11 304.93,160.11 305.26,160.11 305.59,160.10 305.92,160.10 306.25,160.10 306.58,160.10 306.90,160.09 307.23,160.09 307.56,160.09 307.89,160.09 308.22,160.08 308.54,160.08 308.87,160.08 309.20,160.07 309.53,160.07 309.86,160.07 310.18,160.07 310.51,160.06 310.84,160.06 311.17,160.06 311.50,160.05 311.83,160.05 312.15,160.05 312.48,160.04 312.81,160.04 313.14,160.04 313.47,160.03 313.79,160.03 314.12,160.03 314.45,160.02 314.78,160.02 315.11,160.02 315.44,160.01 315.76,160.01 316.09,160.01 316.42,160.00 316.75,160.00 317.08,160.00 317.40,159.99 317.73,159.99 318.06,159.98 318.39,159.98 318.72,159.98 319.04,159.97 319.37,159.97 319.70,159.97 320.03,159.96 320.36,159.96 320.69,159.95 321.01,159.95 321.34,159.94 321.67,159.94 322.00,159.94 322.33,159.93 322.65,159.93 322.98,159.92 323.31,159.92 323.64,159.91 323.97,159.91 324.30,159.91 324.62,159.90 324.95,159.90 325.28,159.89 325.61,159.89 325.94,159.88 326.26,159.88 326.59,159.87 326.92,159.87 327.25,159.86 327.58,159.86 327.90,159.85 328.23,159.85 328.56,159.84 328.89,159.83 329.22,159.83 329.55,159.82 329.87,159.82 330.20,159.81 330.53,159.81 330.86,159.80 331.19,159.80 331.51,159.79 331.84,159.78 332.17,159.78 332.50,159.77 332.83,159.76 333.15,159.76 333.48,159.75 333.81,159.74 334.14,159.74 334.47,159.73 334.80,159.72 335.12,159.72 335.45,159.71 335.78,159.70 336.11,159.70 336.44,159.69 336.76,159.68 337.09,159.67 337.42,159.67 337.75,159.66 338.08,159.65 338.41,159.64 338.73,159.63 339.06,159.63 339.39,159.62 339.72,159.61 340.05,159.60 340.37,159.59 340.70,159.58 341.03,159.57 341.36,159.56 341.69,159.55 342.01,159.54 342.34,159.53 342.67,159.53 343.00,159.52 343.33,159.50 343.66,159.49 343.98,159.48 344.31,159.47 344.64,159.46 344.97,159.45 345.30,159.44 345.62,159.43 345.95,159.42 346.28,159.40 346.61,159.39 346.94,159.38 347.27,159.37 347.59,159.35 347.92,159.34 348.25,159.33 348.58,159.31 348.91,159.30 349.23,159.28 349.56,159.27 349.89,159.26 350.22,159.25 350.55,159.24 350.87,159.23 351.20,159.22 351.53,159.21 351.86,159.20 352.19,159.19 352.52,159.18 352.84,159.17 353.17,159.16 353.50,159.15 353.83,159.14 354.16,159.12 354.48,159.11 354.81,159.10 355.14,159.08 355.47,159.07 355.80,159.05 356.12,159.03 356.45,159.01 356.78,158.99 357.11,158.97 357.44,158.95 357.77,158.93 358.09,158.91 358.42,158.88 358.75,158.85 359.08,158.83 359.41,158.80 359.73,158.77 360.06,158.73 360.39,158.70 360.72,158.66 361.05,158.63 361.38,158.59 361.70,158.54 362.03,158.50 362.36,158.45 362.69,158.40 363.02,158.35 363.34,158.29 363.67,158.23 364.00,158.17 364.33,158.11 364.66,158.04 364.98,157.97 365.31,157.89 365.64,157.81 365.97,157.72 366.30,157.63 366.63,157.54 366.95,157.44 367.28,157.34 367.61,157.23 367.94,157.11 368.27,156.99 368.59,156.87 368.92,156.73 369.25,156.59 369.58,156.45 369.91,156.29 370.24,156.13 370.56,155.97 370.89,155.79 371.22,155.61 371.55,155.41 371.88,155.21 372.20,155.01 372.53,154.79 372.86,154.56 373.19,154.33 373.52,154.08 373.84,153.83 374.17,153.56 374.50,153.29 374.83,153.00 375.16,152.71 375.49,152.40 375.81,152.09 376.14,151.76 376.47,151.42 376.80,151.07 377.13,150.72 377.45,150.35 377.78,149.97 378.11,149.58 378.44,149.18 378.77,148.76 379.10,148.34 379.42,147.91 379.75,147.47 380.08,147.02 380.41,146.56 380.74,146.09 381.06,145.62 381.39,145.14 381.72,144.65 382.05,144.16 382.38,143.66 382.70,143.15 383.03,142.63 383.36,142.11 383.69,141.59 384.02,141.06 384.35,140.52 384.67,139.99 385.00,139.45 385.33,138.91 385.66,138.37 385.99,137.83 386.31,137.29 386.64,136.76 386.97,136.23 387.30,135.71 387.63,135.19 387.95,134.68 388.28,134.18 388.61,133.69 388.94,133.21 389.27,132.74 389.60,132.29 389.92,131.86 390.25,131.44 390.58,131.04 390.91,130.67 391.24,130.31 391.56,129.98 391.89,129.67 392.22,129.39 392.55,129.14 392.88,128.91 393.21,128.72 393.53,128.56 393.86,128.42 394.19,128.32 394.52,128.26 394.85,128.22 395.17,128.22 395.50,128.26 395.83,128.32 396.16,128.42 396.49,128.55 396.81,128.72 397.14,128.92 397.47,129.14 397.80,129.40 398.13,129.68 398.46,130.00 398.78,130.34 399.11,130.70 399.44,131.09 399.77,131.50 400.10,131.93 400.42,132.38 400.75,132.84 401.08,133.33 401.41,133.83 401.74,134.34 402.07,134.86 402.39,135.39 402.72,135.94 403.05,136.49 403.38,137.04 403.71,137.60 404.03,138.17 404.36,138.74 404.69,139.31 405.02,139.88 405.35,140.45 405.67,141.02 406.00,141.59 406.33,142.16 406.66,142.72 406.99,143.28 407.32,143.83 407.64,144.38 407.97,144.92 408.30,145.45 408.63,145.98 408.96,146.50 409.28,147.01 409.61,147.52 409.94,148.01 410.27,148.49 410.60,148.97 410.92,149.44 411.25,149.90 411.58,150.35 411.91,150.80 412.24,151.23 412.57,151.66 412.89,152.07 413.22,152.47 413.55,152.86 413.88,153.24 414.21,153.62 414.53,153.97 414.86,154.32 415.19,154.66 415.52,154.99 415.85,155.31 416.18,155.62 416.50,155.92 416.83,156.20 417.16,156.48 417.49,156.75 417.82,157.01 418.14,157.26 418.47,157.50 418.80,157.74 419.13,157.96 419.46,158.18 419.78,158.39 420.11,158.59 420.44,158.78 420.77,158.97 421.10,159.15 421.43,159.32 421.75,159.49 422.08,159.65 422.41,159.80 422.74,159.95 423.07,160.09 423.39,160.23 423.72,160.36 424.05,160.49 424.38,160.61 424.71,160.73 425.03,160.85 425.36,160.96 425.69,161.06 426.02,161.16 426.35,161.26 426.68,161.36 427.00,161.45 427.33,161.54 427.66,161.63 427.99,161.71 428.32,161.79 428.64,161.87 428.97,161.94 429.30,162.02 429.63,162.09 429.96,162.16 430.29,162.24 430.61,162.31 430.94,162.39 431.27,162.46 431.60,162.54 431.93,162.61 432.25,162.68 432.58,162.74 432.91,162.81 433.24,162.88 433.57,162.94 433.89,163.01 434.22,163.07 434.55,163.13 434.88,163.19 435.21,163.25 435.54,163.31 435.86,163.37 436.19,163.43 436.52,163.49 436.85,163.55 437.18,163.60 437.50,163.66 437.83,163.71 438.16,163.77 438.49,163.82 438.82,163.88 439.15,163.93 439.47,163.98 439.80,164.04 440.13,164.09 440.46,164.14 440.79,164.19 441.11,164.24 441.44,164.29 441.77,164.34 442.10,164.39 442.43,164.45 442.75,164.49 443.08,164.54 443.41,164.59 443.74,164.64 444.07,164.69 444.40,164.74 444.72,164.79 445.05,164.84 445.38,164.88 445.71,164.93 446.04,164.98 446.36,165.03 446.69,165.07 447.02,165.12 447.35,165.17 447.68,165.21 448.00,165.26 448.33,165.31 448.66,165.35 448.99,165.40 449.32,165.44 449.65,165.49 449.97,165.54 450.30,165.58 450.63,165.63 450.96,165.67 451.29,165.72 451.61,165.76 451.94,165.81 452.27,165.85 452.60,165.90 452.93,165.94 453.26,165.98 453.58,166.03 453.91,166.07 454.24,166.12 454.57,166.16 454.90,166.20 455.22,166.25 455.55,166.29 455.88,166.33 456.21,166.38 456.54,166.42 456.86,166.46 457.19,166.51 457.52,166.55 457.85,166.59 458.18,166.64 458.51,166.68 458.83,166.72 459.16,166.76 459.49,166.81 459.82,166.85 460.15,166.89 460.47,166.93 460.80,166.97 461.13,167.02 461.46,167.06 461.79,167.10 462.12,167.14 462.44,167.18 462.77,167.22 463.10,167.27 463.43,167.31 463.76,167.35 464.08,167.39 464.41,167.43 464.74,167.47 465.07,167.51 465.40,167.55 465.72,167.60 466.05,167.64 466.38,167.68 466.71,167.72 467.04,167.76 467.37,167.80 467.69,167.84 468.02,167.88 468.35,167.92 468.68,167.96 469.01,168.00 469.33,168.04 469.66,168.08 469.99,168.12 470.32,168.16 470.65,168.20 470.98,168.24 471.30,168.28 471.63,168.32 471.96,168.36 472.29,168.40 472.62,168.44 472.94,168.48 473.27,168.52 473.60,168.56 473.93,168.60 474.26,168.64 474.58,168.68 474.91,168.72 475.24,168.76 475.57,168.80 475.90,168.84 476.23,168.87 476.55,168.90 476.88,168.93 477.21,168.95 477.54,168.98 477.87,169.00 478.19,169.03 478.52,169.06 478.85,169.08 479.18,169.11 479.51,169.13 479.83,169.16 480.16,169.18 480.49,169.21 480.82,169.24 481.15,169.26 481.48,169.29 481.80,169.31 482.13,169.34 482.46,169.36 482.79,169.39 483.12,169.42 483.44,169.44 483.77,169.47 484.10,169.49 484.43,169.52 484.76,169.54 485.09,169.57 485.41,169.59 485.74,169.62 486.07,169.65 486.40,169.67 486.73,169.70 487.05,169.72 487.38,169.75 487.71,169.77 488.04,169.80 488.37,169.82 488.69,169.85 489.02,169.87 489.35,169.90 489.68,169.92 490.01,169.95 490.34,169.97 490.66,169.99 490.99,170.01 491.32,170.03 491.65,170.05 491.98,170.07 492.30,170.09 492.63,170.11 492.96,170.13 493.29,170.15 493.62,170.17 493.95,170.19 494.27,170.21 494.60,170.23 494.93,170.25 495.26,170.27 495.59,170.29 495.91,170.31 496.24,170.34 496.57,170.36 496.90,170.38 497.23,170.40 497.55,170.42 497.88,170.44 498.21,170.46 498.54,170.48 498.87,170.50 499.20,170.52 499.52,170.54 499.85,170.56 500.18,170.58 500.51,170.60 500.84,170.62 501.16,170.64 501.49,170.66 501.82,170.68 502.15,170.70 502.48,170.72 502.80,170.74 503.13,170.76 503.46,170.78 503.79,170.80 504.12,170.82 504.45,170.84 504.77,170.86 505.10,170.88 505.43,170.90 505.76,170.92 506.09,170.94 506.41,170.96 506.74,170.98 507.07,171.00 507.40,171.02 507.73,171.04 508.06,171.06 508.38,171.08 508.71,171.10 509.04,171.11 509.37,171.13 509.70,171.15 510.02,171.17 510.35,171.19 510.68,171.21 511.01,171.23 511.34,171.25 511.66,171.27 511.99,171.29 512.32,171.31 512.65,171.33 512.98,171.35 513.31,171.37 513.63,171.39 513.96,171.41 514.29,171.43 514.62,171.45 514.95,171.47 515.27,171.49 515.60,171.51 515.93,171.53 516.26,171.55 516.59,171.57 516.92,171.59 517.24,171.61 517.57,171.63 517.90,171.65 518.23,171.67 518.56,171.69 518.88,171.71 519.21,171.72 519.54,171.74 519.87,171.76 520.20,171.78 520.52,171.80 520.85,171.82 521.18,171.84 521.51,171.86 521.84,171.88 522.17,171.90 522.49,171.92 522.82,171.94 523.15,171.96 523.48,171.98 523.81,172.00 524.13,172.02 524.46,172.04 524.79,172.06 525.12,172.08 525.45,172.10 525.77,172.12 526.10,172.13 526.43,172.15 526.76,172.17 527.09,172.19 527.42,172.21 527.74,172.23 528.07,172.25 528.40,172.27" fill="none" stroke="#f0b060" stroke-width="1.1"/>
<polyline points="298.70,160.40 299.03,160.40 299.36,160.40 299.68,160.40 300.01,160.40 300.34,160.40 300.67,160.40 301.00,160.40 301.33,160.39 301.65,160.39 301.98,160.39 302.31,160.39 302.64,160.39 302.97,160.39 303.29,160.39 303.62,160.39 303.95,160.39 304.28,160.39 304.61,160.39 304.93,160.39 305.26,160.39 305.59,160.39 305.92,160.39 306.25,160.39 306.58,160.38 306.90,160.38 307.23,160.38 307.56,160.38 307.89,160.38 308.22,160.38 308.54,160.38 308.87,160.38 309.20,160.38 309.53,160.38 309.86,160.38 310.18,160.38 310.51,160.38 310.84,160.38 311.17,160.38 311.50,160.37 311.83,160.37 312.15,160.37 312.48,160.37 312.81,160.37 313.14,160.37 313.47,160.37 313.79,160.37 314.12,160.37 314.45,160.37 314.78,160.37 315.11,160.37 315.44,160.37 315.76,160.36 316.09,160.36 316.42,160.36 316.75,160.36 317.08,160.36 317.40,160.36 317.73,160.36 318.06,160.36 318.39,160.36 318.72,160.36 319.04,160.35 319.37,160.35 319.70,160.35 320.03,160.35 320.36,160.35 320.69,160.35 321.01,160.35 321.34,160.34 321.67,160.34 322.00,160.34 322.33,160.34 322.65,160.33 322.98,160.33 323.31,160.33 323.64,160.33 323.97,160.32 324.30,160.32 324.62,160.32 324.95,160.31 325.28,160.31 325.61,160.31 325.94,160.30 326.26,160.30 326.59,160.29 326.92,160.29 327.25,160.28 327.58,160.28 327.90,160.27 328.23,160.26 328.56,160.25 328.89,160.25 329.22,160.24 329.55,160.23 329.87,160.22 330.20,160.21 330.53,160.20 330.86,160.18 331.19,160.17 331.51,160.16 331.84,160.14 332.17,160.13 332.50,160.11 332.83,160.09 333.15,160.07 333.48,160.05 333.81,160.03 334.14,160.01 334.47,159.98 334.80,159.96 335.12,159.93 335.45,159.90 335.78,159.87 336.11,159.84 336.44,159.80 336.76,159.76 337.09,159.73 337.42,159.68 337.75,159.64 338.08,159.59 338.41,159.54 338.73,159.49 339.06,159.44 339.39,159.38 339.72,159.32 340.05,159.26 340.37,159.19 340.70,159.12 341.03,159.05 341.36,158.97 341.69,158.89 342.01,158.80 342.34,158.71 342.67,158.62 343.00,158.52 343.33,158.42 343.66,158.31 343.98,158.20 344.31,158.08 344.64,157.96 344.97,157.83 345.30,157.70 345.62,157.56 345.95,157.42 346.28,157.27 346.61,157.12 346.94,156.96 347.27,156.79 347.59,156.62 347.92,156.45 348.25,156.26 348.58,156.07 348.91,155.88 349.23,155.68 349.56,155.47 349.89,155.25 350.22,155.04 350.55,154.82 350.87,154.59 351.20,154.36 351.53,154.12 351.86,153.88 352.19,153.63 352.52,153.37 352.84,153.11 353.17,152.84 353.50,152.56 353.83,152.28 354.16,152.00 354.48,151.71 354.81,151.41 355.14,151.11 355.47,150.80 355.80,150.49 356.12,150.17 356.45,149.85 356.78,149.53 357.11,149.20 357.44,148.87 357.77,148.54 358.09,148.20 358.42,147.86 358.75,147.52 359.08,147.17 359.41,146.83 359.73,146.48 360.06,146.14 360.39,145.79 360.72,145.44 361.05,145.10 361.38,144.75 361.70,144.41 362.03,144.07 362.36,143.73 362.69,143.40 363.02,143.07 363.34,142.74 363.67,142.41 364.00,142.10 364.33,141.78 364.66,141.48 364.98,141.17 365.31,140.88 365.64,140.59 365.97,140.31 366.30,140.04 366.63,139.78 366.95,139.53 367.28,139.28 367.61,139.05 367.94,138.82 368.27,138.61 368.59,138.41 368.92,138.22 369.25,138.04 369.58,137.87 369.91,137.72 370.24,137.58 370.56,137.45 370.89,137.33 371.22,137.23 371.55,137.14 371.88,137.06 372.20,137.00 372.53,136.95 372.86,136.92 373.19,136.90 373.52,136.90 373.84,136.91 374.17,136.93 374.50,136.97 374.83,137.02 375.16,137.08 375.49,137.16 375.81,137.26 376.14,137.37 376.47,137.49 376.80,137.62 377.13,137.77 377.45,137.93 377.78,138.10 378.11,138.28 378.44,138.48 378.77,138.69 379.10,138.91 379.42,139.14 379.75,139.38 380.08,139.63 380.41,139.89 380.74,140.17 381.06,140.46 381.39,140.76 381.72,141.06 382.05,141.37 382.38,141.69 382.70,142.02 383.03,142.35 383.36,142.69 383.69,143.03 384.02,143.38 384.35,143.73 384.67,144.09 385.00,144.45 385.33,144.81 385.66,145.18 385.99,145.54 386.31,145.91 386.64,146.28 386.97,146.65 387.30,147.02 387.63,147.39 387.95,147.76 388.28,148.13 388.61,148.50 388.94,148.86 389.27,149.22 389.60,149.58 389.92,149.94 390.25,150.30 390.58,150.65 390.91,150.99 391.24,151.34 391.56,151.67 391.89,152.01 392.22,152.34 392.55,152.66 392.88,152.98 393.21,153.30 393.53,153.60 393.86,153.91 394.19,154.20 394.52,154.50 394.85,154.78 395.17,155.06 395.50,155.33 395.83,155.60 396.16,155.86 396.49,156.11 396.81,156.36 397.14,156.60 397.47,156.84 397.80,157.07 398.13,157.29 398.46,157.50 398.78,157.71 399.11,157.92 399.44,158.11 399.77,158.31 400.10,158.49 400.42,158.67 400.75,158.85 401.08,159.01 401.41,159.18 401.74,159.33 402.07,159.48 402.39,159.63 402.72,159.77 403.05,159.91 403.38,160.04 403.71,160.16 404.03,160.29 404.36,160.40 404.69,160.51 405.02,160.62 405.35,160.73 405.67,160.83 406.00,160.92 406.33,161.02 406.66,161.10 406.99,161.19 407.32,161.27 407.64,161.35 407.97,161.42 408.30,161.50 408.63,161.57 408.96,161.63 409.28,161.70 409.61,161.76 409.94,161.82 410.27,161.87 410.60,161.93 410.92,161.98 411.25,162.04 411.58,162.09 411.91,162.15 412.24,162.20 412.57,162.26 412.89,162.31 413.22,162.36 413.55,162.41 413.88,162.45 414.21,162.50 414.53,162.54 414.86,162.58 415.19,162.63 415.52,162.67 415.85,162.71 416.18,162.75 416.50,162.78 416.83,162.82 417.16,162.86 417.49,162.89 417.82,162.93 418.14,162.96 418.47,163.00 418.80,163.03 419.13,163.06 419.46,163.09 419.78,163.13 420.11,163.16 420.44,163.19 420.77,163.22 421.10,163.25 421.43,163.28 421.75,163.31 422.08,163.34 422.41,163.37 422.74,163.40 423.07,163.42 423.39,163.45 423.72,163.48 424.05,163.51 424.38,163.54 424.71,163.56 425.03,163.59 425.36,163.62 425.69,163.65 426.02,163.67 426.35,163.70 426.68,163.73 427.00,163.75 427.33,163.78 427.66,163.81 427.99,163.83 428.32,163.86 428.64,163.89 428.97,163.91 429.30,163.94 429.63,163.97 429.96,163.99 430.29,164.03 430.61,164.07 430.94,164.10 431.27,164.14 431.60,164.18 431.93,164.22 432.25,164.25 432.58,164.29 432.91,164.33 433.24,164.37 433.57,164.40 433.89,164.44 434.22,164.48 434.55,164.51 434.88,164.55 435.21,164.59 435.54,164.63 435.86,164.66 436.19,164.70 436.52,164.74 436.85,164.78 437.18,164.81 437.50,164.85 437.83,164.89 438.16,164.92 438.49,164.96 438.82,165.00 439.15,165.04 439.47,165.07 439.80,165.11 440.13,165.15 440.46,165.19 440.79,165.22 441.11,165.26 441.44,165.30 441.77,165.33 442.10,165.37 442.43,165.41 442.75,165.45 443.08,165.48 443.41,165.52 443.74,165.56 444.07,165.59 444.40,165.63 444.72,165.67 445.05,165.71 445.38,165.74 445.71,165.78 446.04,165.82 446.36,165.85 446.69,165.89 447.02,165.93 447.35,165.97 447.68,166.00 448.00,166.04 448.33,166.08 448.66,166.11 448.99,166.15 449.32,166.19 449.65,166.23 449.97,166.26 450.30,166.30 450.63,166.34 450.96,166.38 451.29,166.41 451.61,166.45 451.94,166.49 452.27,166.52 452.60,166.56 452.93,166.60 453.26,166.64 453.58,166.67 453.91,166.71 454.24,166.75 454.57,166.78 454.90,166.82 455.22,166.86 455.55,166.90 455.88,166.93 456.21,166.97 456.54,167.01 456.86,167.04 457.19,167.08 457.52,167.12 457.85,167.16 458.18,167.19 458.51,167.23 458.83,167.27 459.16,167.31 459.49,167.34 459.82,167.38 460.15,167.42 460.47,167.45 460.80,167.49 461.13,167.53 461.46,167.56 461.79,167.60 462.12,167.64 462.44,167.67 462.77,167.71 463.10,167.75 463.43,167.79 463.76,167.82 464.08,167.86 464.41,167.90 464.74,167.93 465.07,167.97 465.40,168.01 465.72,168.04 466.05,168.08 466.38,168.12 466.71,168.15 467.04,168.19 467.37,168.23 467.69,168.27 468.02,168.30 468.35,168.34 468.68,168.38 469.01,168.41 469.33,168.45 469.66,168.49 469.99,168.52 470.32,168.56 470.65,168.60 470.98,168.63 471.30,168.67 471.63,168.71 471.96,168.75 472.29,168.78 472.62,168.82 472.94,168.86 473.27,168.89 473.60,168.93 473.93,168.97 474.26,169.00 474.58,169.04 474.91,169.08 475.24,169.11 475.57,169.15 475.90,169.19 476.23,169.22 476.55,169.24 476.88,169.26 477.21,169.29 477.54,169.31 477.87,169.33 478.19,169.36 478.52,169.38 478.85,169.40 479.18,169.43 479.51,169.45 479.83,169.47 480.16,169.50 480.49,169.52 480.82,169.54 481.15,169.57 481.48,169.59 481.80,169.61 482.13,169.64 482.46,169.66 482.79,169.68 483.12,169.71 483.44,169.73 483.77,169.76 484.10,169.78 484.43,169.80 484.76,169.83 485.09,169.85 485.41,169.87 485.74,169.90 486.07,169.92 486.40,169.94 486.73,169.97 487.05,169.99 487.38,170.01 487.71,170.04 488.04,170.06 488.37,170.08 488.69,170.11 489.02,170.13 489.35,170.15 489.68,170.18 490.01,170.20 490.34,170.22 490.66,170.24 490.99,170.26 491.32,170.28 491.65,170.29 491.98,170.31 492.30,170.33 492.63,170.35 492.96,170.37 493.29,170.39 493.62,170.41 493.95,170.43 494.27,170.44 494.60,170.46 494.93,170.48 495.26,170.50 495.59,170.52 495.91,170.54 496.24,170.56 496.57,170.58 496.90,170.60 497.23,170.61 497.55,170.63 497.88,170.65 498.21,170.67 498.54,170.69 498.87,170.71 499.20,170.73 499.52,170.75 499.85,170.76 500.18,170.78 500.51,170.80 500.84,170.82 501.16,170.84 501.49,170.86 501.82,170.88 502.15,170.90 502.48,170.91 502.80,170.93 503.13,170.95 503.46,170.97 503.79,170.99 504.12,171.01 504.45,171.03 504.77,171.05 505.10,171.07 505.43,171.08 505.76,171.10 506.09,171.12 506.41,171.14 506.74,171.16 507.07,171.18 507.40,171.20 507.73,171.22 508.06,171.23 508.38,171.25 508.71,171.27 509.04,171.29 509.37,171.31 509.70,171.33 510.02,171.35 510.35,171.37 510.68,171.38 511.01,171.40 511.34,171.42 511.66,171.44 511.99,171.46 512.32,171.48 512.65,171.50 512.98,171.52 513.31,171.54 513.63,171.55 513.96,171.57 514.29,171.59 514.62,171.61 514.95,171.63 515.27,171.65 515.60,171.67 515.93,171.69 516.26,171.70 516.59,171.72 516.92,171.74 517.24,171.76 517.57,171.78 517.90,171.80 518.23,171.82 518.56,171.84 518.88,171.85 519.21,171.87 519.54,171.89 519.87,171.91 520.20,171.93 520.52,171.95 520.85,171.97 521.18,171.99 521.51,172.01 521.84,172.02 522.17,172.04 522.49,172.06 522.82,172.08 523.15,172.10 523.48,172.12 523.81,172.14 524.13,172.16 524.46,172.17 524.79,172.19 525.12,172.21 525.45,172.23 525.77,172.25 526.10,172.27 526.43,172.29 526.76,172.31 527.09,172.32 527.42,172.34 527.74,172.36 528.07,172.38 528.40,172.40" fill="none" stroke="#38dcd6" stroke-width="1.1"/>
<polyline points="298.70,160.16 299.03,160.15 299.36,160.15 299.68,160.15 300.01,160.15 300.34,160.14 300.67,160.14 301.00,160.14 301.33,160.14 301.65,160.14 301.98,160.13 302.31,160.13 302.64,160.13 302.97,160.13 303.29,160.12 303.62,160.12 303.95,160.12 304.28,160.11 304.61,160.11 304.93,160.11 305.26,160.11 305.59,160.10 305.92,160.10 306.25,160.10 306.58,160.10 306.90,160.09 307.23,160.09 307.56,160.09 307.89,160.09 308.22,160.08 308.54,160.08 308.87,160.08 309.20,160.07 309.53,160.07 309.86,160.07 310.18,160.06 310.51,160.06 310.84,160.06 311.17,160.06 311.50,160.05 311.83,160.05 312.15,160.05 312.48,160.04 312.81,160.04 313.14,160.04 313.47,160.03 313.79,160.03 314.12,160.03 314.45,160.02 314.78,160.02 315.11,160.01 315.44,160.01 315.76,160.01 316.09,160.00 316.42,160.00 316.75,160.00 317.08,159.99 317.40,159.99 317.73,159.98 318.06,159.98 318.39,159.98 318.72,159.97 319.04,159.97 319.37,159.96 319.70,159.96 320.03,159.95 320.36,159.95 320.69,159.94 321.01,159.94 321.34,159.93 321.67,159.93 322.00,159.92 322.33,159.92 322.65,159.91 322.98,159.90 323.31,159.90 323.64,159.89 323.97,159.88 324.30,159.88 324.62,159.87 324.95,159.86 325.28,159.85 325.61,159.85 325.94,159.84 326.26,159.83 326.59,159.82 326.92,159.81 327.25,159.80 327.58,159.79 327.90,159.78 328.23,159.76 328.56,159.75 328.89,159.74 329.22,159.73 329.55,159.71 329.87,159.70 330.20,159.68 330.53,159.66 330.86,159.65 331.19,159.63 331.51,159.61 331.84,159.59 332.17,159.57 332.50,159.55 332.83,159.52 333.15,159.50 333.48,159.47 333.81,159.44 334.14,159.42 334.47,159.38 334.80,159.35 335.12,159.32 335.45,159.28 335.78,159.24 336.11,159.21 336.44,159.16 336.76,159.12 337.09,159.07 337.42,159.02 337.75,158.97 338.08,158.92 338.41,158.86 338.73,158.80 339.06,158.74 339.39,158.68 339.72,158.61 340.05,158.54 340.37,158.46 340.70,158.38 341.03,158.30 341.36,158.21 341.69,158.12 342.01,158.03 342.34,157.93 342.67,157.83 343.00,157.72 343.33,157.61 343.66,157.49 343.98,157.37 344.31,157.24 344.64,157.11 344.97,156.97 345.30,156.83 345.62,156.68 345.95,156.53 346.28,156.37 346.61,156.21 346.94,156.03 347.27,155.86 347.59,155.67 347.92,155.48 348.25,155.29 348.58,155.08 348.91,154.87 349.23,154.66 349.56,154.44 349.89,154.21 350.22,153.98 350.55,153.74 350.87,153.50 351.20,153.25 351.53,153.00 351.86,152.74 352.19,152.47 352.52,152.20 352.84,151.92 353.17,151.63 353.50,151.33 353.83,151.03 354.16,150.73 354.48,150.41 354.81,150.10 355.14,149.77 355.47,149.44 355.80,149.11 356.12,148.76 356.45,148.42 356.78,148.07 357.11,147.71 357.44,147.35 357.77,146.99 358.09,146.62 358.42,146.25 358.75,145.87 359.08,145.49 359.41,145.11 359.73,144.73 360.06,144.34 360.39,143.95 360.72,143.56 361.05,143.17 361.38,142.78 361.70,142.39 362.03,141.99 362.36,141.60 362.69,141.21 363.02,140.81 363.34,140.42 363.67,140.03 364.00,139.65 364.33,139.26 364.66,138.88 364.98,138.50 365.31,138.12 365.64,137.74 365.97,137.37 366.30,137.00 366.63,136.64 366.95,136.28 367.28,135.92 367.61,135.57 367.94,135.23 368.27,134.88 368.59,134.55 368.92,134.22 369.25,133.89 369.58,133.57 369.91,133.25 370.24,132.94 370.56,132.64 370.89,132.34 371.22,132.05 371.55,131.76 371.88,131.48 372.20,131.20 372.53,130.93 372.86,130.66 373.19,130.40 373.52,130.14 373.84,129.88 374.17,129.64 374.50,129.39 374.83,129.15 375.16,128.91 375.49,128.68 375.81,128.45 376.14,128.22 376.47,128.00 376.80,127.78 377.13,127.56 377.45,127.34 377.78,127.13 378.11,126.92 378.44,126.70 378.77,126.49 379.10,126.28 379.42,126.08 379.75,125.87 380.08,125.66 380.41,125.45 380.74,125.25 381.06,125.05 381.39,124.85 381.72,124.66 382.05,124.46 382.38,124.26 382.70,124.06 383.03,123.86 383.36,123.66 383.69,123.46 384.02,123.26 384.35,123.07 384.67,122.87 385.00,122.68 385.33,122.48 385.66,122.29 385.99,122.11 386.31,121.92 386.64,121.74 386.97,121.56 387.30,121.39 387.63,121.23 387.95,121.07 388.28,120.92 388.61,120.78 388.94,120.65 389.27,120.54 389.60,120.43 389.92,120.34 390.25,120.26 390.58,120.19 390.91,120.15 391.24,120.12 391.56,120.11 391.89,120.12 392.22,120.15 392.55,120.21 392.88,120.29 393.21,120.39 393.53,120.52 393.86,120.67 394.19,120.86 394.52,121.06 394.85,121.30 395.17,121.56 395.50,121.85 395.83,122.17 396.16,122.51 396.49,122.88 396.81,123.28 397.14,123.70 397.47,124.14 397.80,124.61 398.13,125.11 398.46,125.62 398.78,126.15 399.11,126.70 399.44,127.27 399.77,127.86 400.10,128.46 400.42,129.07 400.75,129.69 401.08,130.33 401.41,130.97 401.74,131.62 402.07,132.28 402.39,132.94 402.72,133.61 403.05,134.28 403.38,134.95 403.71,135.62 404.03,136.29 404.36,136.96 404.69,137.63 405.02,138.29 405.35,138.95 405.67,139.60 406.00,140.25 406.33,140.89 406.66,141.52 406.99,142.14 407.32,142.76 407.64,143.37 407.97,143.96 408.30,144.55 408.63,145.12 408.96,145.68 409.28,146.23 409.61,146.77 409.94,147.29 410.27,147.81 410.60,148.30 410.92,148.79 411.25,149.26 411.58,149.72 411.91,150.17 412.24,150.60 412.57,151.02 412.89,151.41 413.22,151.79 413.55,152.15 413.88,152.49 414.21,152.82 414.53,153.12 414.86,153.40 415.19,153.66 415.52,153.89 415.85,154.11 416.18,154.30 416.50,154.46 416.83,154.59 417.16,154.70 417.49,154.78 417.82,154.83 418.14,154.84 418.47,154.83 418.80,154.77 419.13,154.69 419.46,154.56 419.78,154.39 420.11,154.19 420.44,153.94 420.77,153.64 421.10,153.30 421.43,152.91 421.75,152.47 422.08,151.98 422.41,151.44 422.74,150.85 423.07,150.20 423.39,149.49" fill="none" stroke="#f01818" stroke-width="4.2" stroke-linejoin="round" stroke-linecap="round"/>
<polyline points="436.19,97.60 436.52,96.88 436.85,96.26 437.18,95.74 437.50,95.32 437.83,95.00 438.16,94.78 438.49,94.65 438.82,94.62 439.15,94.69 439.47,94.84 439.80,95.07 440.13,95.37 440.46,95.75 440.79,96.19 441.11,96.68 441.44,97.21 441.77,97.78 442.10,98.38 442.43,98.99 442.75,99.61 443.08,100.22 443.41,100.81 443.74,101.37 444.07,101.89 444.40,102.36 444.72,102.76 445.05,103.09 445.38,103.34 445.71,103.49 446.04,103.53 446.36,103.47 446.69,103.28 447.02,102.96 447.35,102.51 447.68,101.92" fill="none" stroke="#f01818" stroke-width="4.2" stroke-linejoin="round" stroke-linecap="round"/>
<polyline points="458.18,43.05 458.51,42.42 458.83,42.01 459.16,41.84 459.49,41.92 459.82,42.23 460.15,42.78" fill="none" stroke="#f01818" stroke-width="4.2" stroke-linejoin="round" stroke-linecap="round"/>
<polyline points="476.88,162.49 477.21,163.20 477.54,163.85 477.87,164.45 478.19,164.98 478.52,165.47 478.85,165.91 479.18,166.31 479.51,166.67 479.83,167.00 480.16,167.29 480.49,167.55 480.82,167.79 481.15,168.00 481.48,168.19 481.80,168.36 482.13,168.52 482.46,168.66 482.79,168.78 483.12,168.89 483.44,168.99 483.77,169.08 484.10,169.16 484.43,169.24 484.76,169.30 485.09,169.37 485.41,169.42 485.74,169.47 486.07,169.52 486.40,169.57 486.73,169.61 487.05,169.65 487.38,169.69 487.71,169.72 488.04,169.75 488.37,169.79 488.69,169.82 489.02,169.85 489.35,169.88 489.68,169.91 490.01,169.93 490.34,169.96 490.66,169.98 490.99,170.00 491.32,170.02 491.65,170.05 491.98,170.07 492.30,170.09 492.63,170.11 492.96,170.13 493.29,170.15 493.62,170.17 493.95,170.19 494.27,170.21 494.60,170.23 494.93,170.25 495.26,170.27 495.59,170.29 495.91,170.31 496.24,170.33 496.57,170.36 496.90,170.38 497.23,170.40 497.55,170.42 497.88,170.44 498.21,170.46 498.54,170.48 498.87,170.50 499.20,170.52 499.52,170.54 499.85,170.56 500.18,170.58 500.51,170.60 500.84,170.62 501.16,170.64 501.49,170.66 501.82,170.68 502.15,170.70 502.48,170.72 502.80,170.74 503.13,170.76 503.46,170.78 503.79,170.80 504.12,170.82 504.45,170.84 504.77,170.86 505.10,170.88 505.43,170.90 505.76,170.92 506.09,170.94 506.41,170.96 506.74,170.98 507.07,171.00 507.40,171.02 507.73,171.04 508.06,171.06 508.38,171.08 508.71,171.10 509.04,171.11 509.37,171.13 509.70,171.15 510.02,171.17 510.35,171.19 510.68,171.21 511.01,171.23 511.34,171.25 511.66,171.27 511.99,171.29 512.32,171.31 512.65,171.33 512.98,171.35 513.31,171.37 513.63,171.39 513.96,171.41 514.29,171.43 514.62,171.45 514.95,171.47 515.27,171.49 515.60,171.51 515.93,171.53 516.26,171.55 516.59,171.57 516.92,171.59 517.24,171.61 517.57,171.63 517.90,171.65 518.23,171.67 518.56,171.69 518.88,171.71 519.21,171.72 519.54,171.74 519.87,171.76 520.20,171.78 520.52,171.80 520.85,171.82 521.18,171.84 521.51,171.86 521.84,171.88 522.17,171.90 522.49,171.92 522.82,171.94 523.15,171.96 523.48,171.98 523.81,172.00 524.13,172.02 524.46,172.04 524.79,172.06 525.12,172.08 525.45,172.10 525.77,172.12 526.10,172.13 526.43,172.15 526.76,172.17 527.09,172.19 527.42,172.21 527.74,172.23 528.07,172.25 528.40,172.27" fill="none" stroke="#f01818" stroke-width="4.2" stroke-linejoin="round" stroke-linecap="round"/>
<g fill="none" stroke="#ec3030" stroke-width="0.8"><circle cx="298.70" cy="160.16" r="2.6"/><circle cx="299.52" cy="160.15" r="2.6"/><circle cx="300.34" cy="160.14" r="2.6"/><circle cx="301.16" cy="160.14" r="2.6"/><circle cx="301.98" cy="160.13" r="2.6"/><circle cx="302.80" cy="160.13" r="2.6"/><circle cx="303.62" cy="160.12" r="2.6"/><circle cx="304.44" cy="160.11" r="2.6"/><circle cx="305.26" cy="160.11" r="2.6"/><circle cx="306.08" cy="160.10" r="2.6"/><circle cx="306.90" cy="160.09" r="2.6"/><circle cx="307.72" cy="160.09" r="2.6"/><circle cx="308.54" cy="160.08" r="2.6"/><circle cx="309.36" cy="160.07" r="2.6"/><circle cx="310.18" cy="160.06" r="2.6"/><circle cx="311.01" cy="160.06" r="2.6"/><circle cx="311.83" cy="160.05" r="2.6"/><circle cx="312.65" cy="160.04" r="2.6"/><circle cx="313.47" cy="160.03" r="2.6"/><circle cx="314.29" cy="160.02" r="2.6"/><circle cx="315.11" cy="160.01" r="2.6"/><circle cx="315.93" cy="160.01" r="2.6"/><circle cx="316.75" cy="160.00" r="2.6"/><circle cx="317.57" cy="159.99" r="2.6"/><circle cx="318.39" cy="159.98" r="2.6"/><circle cx="319.21" cy="159.96" r="2.6"/><circle cx="320.03" cy="159.95" r="2.6"/><circle cx="320.85" cy="159.94" r="2.6"/><circle cx="321.67" cy="159.93" r="2.6"/><circle cx="322.49" cy="159.91" r="2.6"/><circle cx="323.31" cy="159.90" r="2.6"/><circle cx="324.13" cy="159.88" r="2.6"/><circle cx="324.95" cy="159.86" r="2.6"/><circle cx="325.77" cy="159.84" r="2.6"/><circle cx="326.59" cy="159.82" r="2.6"/><circle cx="327.41" cy="159.79" r="2.6"/><circle cx="328.23" cy="159.76" r="2.6"/><circle cx="329.05" cy="159.73" r="2.6"/><circle cx="329.87" cy="159.70" r="2.6"/><circle cx="330.69" cy="159.66" r="2.6"/><circle cx="331.51" cy="159.61" r="2.6"/><circle cx="332.33" cy="159.56" r="2.6"/><circle cx="333.15" cy="159.50" r="2.6"/><circle cx="333.98" cy="159.43" r="2.6"/><circle cx="334.80" cy="159.35" r="2.6"/><circle cx="335.62" cy="159.26" r="2.6"/><circle cx="336.44" cy="159.16" r="2.6"/><circle cx="337.26" cy="159.05" r="2.6"/><circle cx="338.08" cy="158.92" r="2.6"/><circle cx="338.90" cy="158.77" r="2.6"/><circle cx="339.72" cy="158.61" r="2.6"/><circle cx="340.54" cy="158.42" r="2.6"/><circle cx="341.36" cy="158.21" r="2.6"/><circle cx="342.18" cy="157.98" r="2.6"/><circle cx="343.00" cy="157.72" r="2.6"/><circle cx="343.82" cy="157.43" r="2.6"/><circle cx="344.64" cy="157.11" r="2.6"/><circle cx="345.46" cy="156.76" r="2.6"/><circle cx="346.28" cy="156.37" r="2.6"/><circle cx="347.10" cy="155.95" r="2.6"/><circle cx="347.92" cy="155.48" r="2.6"/><circle cx="348.74" cy="154.98" r="2.6"/><circle cx="349.56" cy="154.44" r="2.6"/><circle cx="350.38" cy="153.86" r="2.6"/><circle cx="351.20" cy="153.25" r="2.6"/><circle cx="352.02" cy="152.61" r="2.6"/><circle cx="352.84" cy="151.92" r="2.6"/><circle cx="353.66" cy="151.18" r="2.6"/><circle cx="354.48" cy="150.41" r="2.6"/><circle cx="355.30" cy="149.61" r="2.6"/><circle cx="356.12" cy="148.76" r="2.6"/><circle cx="356.95" cy="147.89" r="2.6"/><circle cx="357.77" cy="146.99" r="2.6"/><circle cx="358.59" cy="146.06" r="2.6"/><circle cx="359.41" cy="145.11" r="2.6"/><circle cx="360.23" cy="144.15" r="2.6"/><circle cx="361.05" cy="143.17" r="2.6"/><circle cx="361.87" cy="142.19" r="2.6"/><circle cx="362.69" cy="141.21" r="2.6"/><circle cx="363.51" cy="140.23" r="2.6"/><circle cx="364.33" cy="139.26" r="2.6"/><circle cx="365.15" cy="138.31" r="2.6"/><circle cx="365.97" cy="137.37" r="2.6"/><circle cx="366.79" cy="136.46" r="2.6"/><circle cx="367.61" cy="135.57" r="2.6"/><circle cx="368.43" cy="134.72" r="2.6"/><circle cx="369.25" cy="133.89" r="2.6"/><circle cx="370.07" cy="133.10" r="2.6"/><circle cx="370.89" cy="132.34" r="2.6"/><circle cx="371.71" cy="131.62" r="2.6"/><circle cx="372.53" cy="130.93" r="2.6"/><circle cx="373.35" cy="130.27" r="2.6"/><circle cx="374.17" cy="129.64" r="2.6"/><circle cx="374.99" cy="129.03" r="2.6"/><circle cx="375.81" cy="128.45" r="2.6"/><circle cx="376.63" cy="127.89" r="2.6"/><circle cx="377.45" cy="127.34" r="2.6"/><circle cx="378.27" cy="126.81" r="2.6"/><circle cx="379.10" cy="126.28" r="2.6"/><circle cx="379.92" cy="125.76" r="2.6"/><circle cx="380.74" cy="125.25" r="2.6"/><circle cx="381.56" cy="124.76" r="2.6"/><circle cx="382.38" cy="124.26" r="2.6"/><circle cx="383.20" cy="123.76" r="2.6"/><circle cx="384.02" cy="123.26" r="2.6"/><circle cx="384.84" cy="122.77" r="2.6"/><circle cx="385.66" cy="122.29" r="2.6"/><circle cx="386.48" cy="121.83" r="2.6"/><circle cx="387.30" cy="121.39" r="2.6"/><circle cx="388.12" cy="121.00" r="2.6"/><circle cx="388.94" cy="120.65" r="2.6"/><circle cx="389.76" cy="120.38" r="2.6"/><circle cx="390.58" cy="120.19" r="2.6"/><circle cx="391.40" cy="120.11" r="2.6"/><circle cx="392.22" cy="120.15" r="2.6"/><circle cx="393.04" cy="120.34" r="2.6"/><circle cx="393.86" cy="120.67" r="2.6"/><circle cx="394.68" cy="121.18" r="2.6"/><circle cx="395.50" cy="121.85" r="2.6"/><circle cx="396.32" cy="122.69" r="2.6"/><circle cx="397.14" cy="123.70" r="2.6"/><circle cx="397.96" cy="124.86" r="2.6"/><circle cx="398.78" cy="126.15" r="2.6"/><circle cx="399.60" cy="127.56" r="2.6"/><circle cx="400.42" cy="129.07" r="2.6"/><circle cx="401.24" cy="130.65" r="2.6"/><circle cx="402.07" cy="132.28" r="2.6"/><circle cx="402.89" cy="133.95" r="2.6"/><circle cx="403.71" cy="135.62" r="2.6"/><circle cx="404.53" cy="137.30" r="2.6"/><circle cx="405.35" cy="138.95" r="2.6"/><circle cx="406.17" cy="140.57" r="2.6"/><circle cx="406.99" cy="142.14" r="2.6"/><circle cx="407.81" cy="143.66" r="2.6"/><circle cx="408.63" cy="145.12" r="2.6"/><circle cx="409.45" cy="146.50" r="2.6"/><circle cx="410.27" cy="147.81" r="2.6"/><circle cx="411.09" cy="149.02" r="2.6"/><circle cx="411.91" cy="150.17" r="2.6"/><circle cx="412.73" cy="151.22" r="2.6"/><circle cx="413.55" cy="152.15" r="2.6"/><circle cx="414.37" cy="152.97" r="2.6"/><circle cx="415.19" cy="153.66" r="2.6"/><circle cx="416.01" cy="154.20" r="2.6"/><circle cx="416.83" cy="154.59" r="2.6"/><circle cx="417.65" cy="154.81" r="2.6"/><circle cx="418.47" cy="154.83" r="2.6"/><circle cx="419.29" cy="154.63" r="2.6"/><circle cx="420.11" cy="154.19" r="2.6"/><circle cx="420.93" cy="153.48" r="2.6"/><circle cx="421.75" cy="152.47" r="2.6"/><circle cx="422.57" cy="151.15" r="2.6"/><circle cx="423.39" cy="149.49" r="2.6"/><circle cx="424.21" cy="147.48" r="2.6"/><circle cx="425.03" cy="145.09" r="2.6"/><circle cx="425.86" cy="142.35" r="2.6"/><circle cx="426.68" cy="139.25" r="2.6"/><circle cx="427.50" cy="135.83" r="2.6"/><circle cx="428.32" cy="132.12" r="2.6"/><circle cx="429.14" cy="128.17" r="2.6"/><circle cx="429.96" cy="124.07" r="2.6"/><circle cx="430.78" cy="119.91" r="2.6"/><circle cx="431.60" cy="115.77" r="2.6"/><circle cx="432.42" cy="111.74" r="2.6"/><circle cx="433.24" cy="107.94" r="2.6"/><circle cx="434.06" cy="104.46" r="2.6"/><circle cx="434.88" cy="101.41" r="2.6"/><circle cx="435.70" cy="98.86" r="2.6"/><circle cx="436.52" cy="96.88" r="2.6"/><circle cx="437.34" cy="95.52" r="2.6"/><circle cx="438.16" cy="94.78" r="2.6"/><circle cx="438.98" cy="94.64" r="2.6"/><circle cx="439.80" cy="95.07" r="2.6"/><circle cx="440.62" cy="95.96" r="2.6"/><circle cx="441.44" cy="97.21" r="2.6"/><circle cx="442.26" cy="98.69" r="2.6"/><circle cx="443.08" cy="100.22" r="2.6"/><circle cx="443.90" cy="101.64" r="2.6"/><circle cx="444.72" cy="102.76" r="2.6"/><circle cx="445.54" cy="103.43" r="2.6"/><circle cx="446.36" cy="103.47" r="2.6"/><circle cx="447.18" cy="102.75" r="2.6"/><circle cx="448.00" cy="101.19" r="2.6"/><circle cx="448.83" cy="98.71" r="2.6"/><circle cx="449.65" cy="95.32" r="2.6"/><circle cx="450.47" cy="91.06" r="2.6"/><circle cx="451.29" cy="86.04" r="2.6"/><circle cx="452.11" cy="80.39" r="2.6"/><circle cx="452.93" cy="74.34" r="2.6"/><circle cx="453.75" cy="68.12" r="2.6"/><circle cx="454.57" cy="61.99" r="2.6"/><circle cx="455.39" cy="56.23" r="2.6"/><circle cx="456.21" cy="51.13" r="2.6"/><circle cx="457.03" cy="46.95" r="2.6"/><circle cx="457.85" cy="43.90" r="2.6"/><circle cx="458.67" cy="42.19" r="2.6"/><circle cx="459.49" cy="41.92" r="2.6"/><circle cx="460.31" cy="43.15" r="2.6"/><circle cx="461.13" cy="45.89" r="2.6"/><circle cx="461.95" cy="50.05" r="2.6"/><circle cx="462.77" cy="55.52" r="2.6"/><circle cx="463.59" cy="62.10" r="2.6"/><circle cx="464.41" cy="69.58" r="2.6"/><circle cx="465.23" cy="77.72" r="2.6"/><circle cx="466.05" cy="86.27" r="2.6"/><circle cx="466.87" cy="94.99" r="2.6"/><circle cx="467.69" cy="103.64" r="2.6"/><circle cx="468.51" cy="112.02" r="2.6"/><circle cx="469.33" cy="119.98" r="2.6"/><circle cx="470.15" cy="127.37" r="2.6"/><circle cx="470.98" cy="134.11" r="2.6"/><circle cx="471.80" cy="140.14" r="2.6"/><circle cx="472.62" cy="145.45" r="2.6"/><circle cx="473.44" cy="150.04" r="2.6"/><circle cx="474.26" cy="153.95" r="2.6"/><circle cx="475.08" cy="157.22" r="2.6"/><circle cx="475.90" cy="159.93" r="2.6"/><circle cx="476.72" cy="162.11" r="2.6"/><circle cx="477.54" cy="163.85" r="2.6"/><circle cx="478.36" cy="165.23" r="2.6"/><circle cx="479.18" cy="166.31" r="2.6"/><circle cx="480.00" cy="167.15" r="2.6"/><circle cx="480.82" cy="167.79" r="2.6"/><circle cx="481.64" cy="168.28" r="2.6"/><circle cx="482.46" cy="168.66" r="2.6"/><circle cx="483.28" cy="168.94" r="2.6"/><circle cx="484.10" cy="169.16" r="2.6"/><circle cx="484.92" cy="169.34" r="2.6"/><circle cx="485.74" cy="169.47" r="2.6"/><circle cx="486.56" cy="169.59" r="2.6"/><circle cx="487.38" cy="169.69" r="2.6"/><circle cx="488.20" cy="169.77" r="2.6"/><circle cx="489.02" cy="169.85" r="2.6"/><circle cx="489.84" cy="169.92" r="2.6"/><circle cx="490.66" cy="169.98" r="2.6"/><circle cx="491.48" cy="170.03" r="2.6"/><circle cx="492.30" cy="170.09" r="2.6"/><circle cx="493.12" cy="170.14" r="2.6"/><circle cx="493.95" cy="170.19" r="2.6"/><circle cx="494.77" cy="170.24" r="2.6"/><circle cx="495.59" cy="170.29" r="2.6"/><circle cx="496.41" cy="170.34" r="2.6"/><circle cx="497.23" cy="170.40" r="2.6"/><circle cx="498.05" cy="170.45" r="2.6"/><circle cx="498.87" cy="170.50" r="2.6"/><circle cx="499.69" cy="170.55" r="2.6"/><circle cx="500.51" cy="170.60" r="2.6"/><circle cx="501.33" cy="170.65" r="2.6"/><circle cx="502.15" cy="170.70" r="2.6"/><circle cx="502.97" cy="170.75" r="2.6"/><circle cx="503.79" cy="170.80" r="2.6"/><circle cx="504.61" cy="170.85" r="2.6"/><circle cx="505.43" cy="170.90" r="2.6"/><circle cx="506.25" cy="170.95" r="2.6"/><circle cx="507.07" cy="171.00" r="2.6"/><circle cx="507.89" cy="171.05" r="2.6"/><circle cx="508.71" cy="171.10" r="2.6"/><circle cx="509.53" cy="171.14" r="2.6"/><circle cx="510.35" cy="171.19" r="2.6"/><circle cx="511.17" cy="171.24" r="2.6"/><circle cx="511.99" cy="171.29" r="2.6"/><circle cx="512.81" cy="171.34" r="2.6"/><circle cx="513.63" cy="171.39" r="2.6"/><circle cx="514.45" cy="171.44" r="2.6"/><circle cx="515.27" cy="171.49" r="2.6"/><circle cx="516.09" cy="171.54" r="2.6"/><circle cx="516.92" cy="171.59" r="2.6"/><circle cx="517.74" cy="171.64" r="2.6"/><circle cx="518.56" cy="171.69" r="2.6"/><circle cx="519.38" cy="171.73" r="2.6"/><circle cx="520.20" cy="171.78" r="2.6"/><circle cx="521.02" cy="171.83" r="2.6"/><circle cx="521.84" cy="171.88" r="2.6"/><circle cx="522.66" cy="171.93" r="2.6"/><circle cx="523.48" cy="171.98" r="2.6"/><circle cx="524.30" cy="172.03" r="2.6"/><circle cx="525.12" cy="172.08" r="2.6"/><circle cx="525.94" cy="172.13" r="2.6"/><circle cx="526.76" cy="172.17" r="2.6"/><circle cx="527.58" cy="172.22" r="2.6"/><circle cx="528.40" cy="172.27" r="2.6"/></g>
<polyline points="298.70,160.16 299.03,160.15 299.36,160.15 299.68,160.15 300.01,160.15 300.34,160.14 300.67,160.14 301.00,160.14 301.33,160.14 301.65,160.14 301.98,160.13 302.31,160.13 302.64,160.13 302.97,160.13 303.29,160.12 303.62,160.12 303.95,160.12 304.28,160.11 304.61,160.11 304.93,160.11 305.26,160.11 305.59,160.10 305.92,160.10 306.25,160.10 306.58,160.10 306.90,160.09 307.23,160.09 307.56,160.09 307.89,160.09 308.22,160.08 308.54,160.08 308.87,160.08 309.20,160.07 309.53,160.07 309.86,160.07 310.18,160.06 310.51,160.06 310.84,160.06 311.17,160.06 311.50,160.05 311.83,160.05 312.15,160.05 312.48,160.04 312.81,160.04 313.14,160.04 313.47,160.03 313.79,160.03 314.12,160.03 314.45,160.02 314.78,160.02 315.11,160.01 315.44,160.01 315.76,160.01 316.09,160.00 316.42,160.00 316.75,160.00 317.08,159.99 317.40,159.99 317.73,159.98 318.06,159.98 318.39,159.98 318.72,159.97 319.04,159.97 319.37,159.96 319.70,159.96 320.03,159.95 320.36,159.95 320.69,159.94 321.01,159.94 321.34,159.93 321.67,159.93 322.00,159.92 322.33,159.92 322.65,159.91 322.98,159.90 323.31,159.90 323.64,159.89 323.97,159.88 324.30,159.88 324.62,159.87 324.95,159.86 325.28,159.85 325.61,159.85 325.94,159.84 326.26,159.83 326.59,159.82 326.92,159.81 327.25,159.80 327.58,159.79 327.90,159.78 328.23,159.76 328.56,159.75 328.89,159.74 329.22,159.73 329.55,159.71 329.87,159.70 330.20,159.68 330.53,159.66 330.86,159.65 331.19,159.63 331.51,159.61 331.84,159.59 332.17,159.57 332.50,159.55 332.83,159.52 333.15,159.50 333.48,159.47 333.81,159.44 334.14,159.42 334.47,159.38 334.80,159.35 335.12,159.32 335.45,159.28 335.78,159.24 336.11,159.21 336.44,159.16 336.76,159.12 337.09,159.07 337.42,159.02 337.75,158.97 338.08,158.92 338.41,158.86 338.73,158.80 339.06,158.74 339.39,158.68 339.72,158.61 340.05,158.54 340.37,158.46 340.70,158.38 341.03,158.30 341.36,158.21 341.69,158.12 342.01,158.03 342.34,157.93 342.67,157.83 343.00,157.72 343.33,157.61 343.66,157.49 343.98,157.37 344.31,157.24 344.64,157.11 344.97,156.97 345.30,156.83 345.62,156.68 345.95,156.53 346.28,156.37 346.61,156.21 346.94,156.03 347.27,155.86 347.59,155.67 347.92,155.48 348.25,155.29 348.58,155.08 348.91,154.87 349.23,154.66 349.56,154.44 349.89,154.21 350.22,153.98 350.55,153.74 350.87,153.50 351.20,153.25 351.53,153.00 351.86,152.74 352.19,152.47 352.52,152.20 352.84,151.92 353.17,151.63 353.50,151.33 353.83,151.03 354.16,150.73 354.48,150.41 354.81,150.10 355.14,149.77 355.47,149.44 355.80,149.11 356.12,148.76 356.45,148.42 356.78,148.07 357.11,147.71 357.44,147.35 357.77,146.99 358.09,146.62 358.42,146.25 358.75,145.87 359.08,145.49 359.41,145.11 359.73,144.73 360.06,144.34 360.39,143.95 360.72,143.56 361.05,143.17 361.38,142.78 361.70,142.39 362.03,141.99 362.36,141.60 362.69,141.21 363.02,140.81 363.34,140.42 363.67,140.03 364.00,139.65 364.33,139.26 364.66,138.88 364.98,138.50 365.31,138.12 365.64,137.74 365.97,137.37 366.30,137.00 366.63,136.64 366.95,136.28 367.28,135.92 367.61,135.57 367.94,135.23 368.27,134.88 368.59,134.55 368.92,134.22 369.25,133.89 369.58,133.57 369.91,133.25 370.24,132.94 370.56,132.64 370.89,132.34 371.22,132.05 371.55,131.76 371.88,131.48 372.20,131.20 372.53,130.93 372.86,130.66 373.19,130.40 373.52,130.14 373.84,129.88 374.17,129.64 374.50,129.39 374.83,129.15 375.16,128.91 375.49,128.68 375.81,128.45 376.14,128.22 376.47,128.00 376.80,127.78 377.13,127.56 377.45,127.34 377.78,127.13 378.11,126.92 378.44,126.70 378.77,126.49 379.10,126.28 379.42,126.08 379.75,125.87 380.08,125.66 380.41,125.45 380.74,125.25 381.06,125.05 381.39,124.85 381.72,124.66 382.05,124.46 382.38,124.26 382.70,124.06 383.03,123.86 383.36,123.66 383.69,123.46 384.02,123.26 384.35,123.07 384.67,122.87 385.00,122.68 385.33,122.48 385.66,122.29 385.99,122.11 386.31,121.92 386.64,121.74 386.97,121.56 387.30,121.39 387.63,121.23 387.95,121.07 388.28,120.92 388.61,120.78 388.94,120.65 389.27,120.54 389.60,120.43 389.92,120.34 390.25,120.26 390.58,120.19 390.91,120.15 391.24,120.12 391.56,120.11 391.89,120.12 392.22,120.15 392.55,120.21 392.88,120.29 393.21,120.39 393.53,120.52 393.86,120.67 394.19,120.86 394.52,121.06 394.85,121.30 395.17,121.56 395.50,121.85 395.83,122.17 396.16,122.51 396.49,122.88 396.81,123.28 397.14,123.70 397.47,124.14 397.80,124.61 398.13,125.11 398.46,125.62 398.78,126.15 399.11,126.70 399.44,127.27 399.77,127.86 400.10,128.46 400.42,129.07 400.75,129.69 401.08,130.33 401.41,130.97 401.74,131.62 402.07,132.28 402.39,132.94 402.72,133.61 403.05,134.28 403.38,134.95 403.71,135.62 404.03,136.29 404.36,136.96 404.69,137.63 405.02,138.29 405.35,138.95 405.67,139.60 406.00,140.25 406.33,140.89 406.66,141.52 406.99,142.14 407.32,142.76 407.64,143.37 407.97,143.96 408.30,144.55 408.63,145.12 408.96,145.68 409.28,146.23 409.61,146.77 409.94,147.29 410.27,147.81 410.60,148.30 410.92,148.79 411.25,149.26 411.58,149.72 411.91,150.17 412.24,150.60 412.57,151.02 412.89,151.41 413.22,151.79 413.55,152.15 413.88,152.49 414.21,152.82 414.53,153.12 414.86,153.40 415.19,153.66 415.52,153.89 415.85,154.11 416.18,154.30 416.50,154.46 416.83,154.59 417.16,154.70 417.49,154.78 417.82,154.83 418.14,154.84 418.47,154.83 418.80,154.77 419.13,154.69 419.46,154.56 419.78,154.39 420.11,154.19 420.44,153.94 420.77,153.64 421.10,153.30 421.43,152.91 421.75,152.47 422.08,151.98 422.41,151.44 422.74,150.85 423.07,150.20 423.39,149.49 423.72,148.73 424.05,147.91 424.38,147.03 424.71,146.09 425.03,145.09 425.36,144.04 425.69,142.93 426.02,141.76 426.35,140.53 426.68,139.25 427.00,137.92 427.33,136.54 427.66,135.11 427.99,133.63 428.32,132.12 428.64,130.56 428.97,128.98 429.30,127.36 429.63,125.72 429.96,124.07 430.29,122.41 430.61,120.74 430.94,119.08 431.27,117.42 431.60,115.77 431.93,114.14 432.25,112.53 432.58,110.96 432.91,109.43 433.24,107.94 433.57,106.50 433.89,105.12 434.22,103.81 434.55,102.57 434.88,101.41 435.21,100.32 435.54,99.32 435.86,98.42 436.19,97.60 436.52,96.88 436.85,96.26 437.18,95.74 437.50,95.32 437.83,95.00 438.16,94.78 438.49,94.65 438.82,94.62 439.15,94.69 439.47,94.84 439.80,95.07 440.13,95.37 440.46,95.75 440.79,96.19 441.11,96.68 441.44,97.21 441.77,97.78 442.10,98.38 442.43,98.99 442.75,99.61 443.08,100.22 443.41,100.81 443.74,101.37 444.07,101.89 444.40,102.36 444.72,102.76 445.05,103.09 445.38,103.34 445.71,103.49 446.04,103.53 446.36,103.47 446.69,103.28 447.02,102.96 447.35,102.51 447.68,101.92 448.00,101.19 448.33,100.31 448.66,99.28 448.99,98.11 449.32,96.79 449.65,95.32 449.97,93.72 450.30,91.98 450.63,90.11 450.96,88.13 451.29,86.04 451.61,83.84 451.94,81.56 452.27,79.21 452.60,76.80 452.93,74.34 453.26,71.86 453.58,69.36 453.91,66.87 454.24,64.41 454.57,61.99 454.90,59.62 455.22,57.34 455.55,55.15 455.88,53.08 456.21,51.13 456.54,49.33 456.86,47.70 457.19,46.24 457.52,44.97 457.85,43.90 458.18,43.05 458.51,42.42 458.83,42.01 459.16,41.84 459.49,41.92 459.82,42.23 460.15,42.78 460.47,43.58 460.80,44.62 461.13,45.89 461.46,47.39 461.79,49.11 462.12,51.05 462.44,53.19 462.77,55.52 463.10,58.03 463.43,60.70 463.76,63.53 464.08,66.49 464.41,69.58 464.74,72.77 465.07,76.05 465.40,79.41 465.72,82.82 466.05,86.27 466.38,89.75 466.71,93.24 467.04,96.73 467.37,100.20 467.69,103.64 468.02,107.03 468.35,110.38 468.68,113.65 469.01,116.86 469.33,119.98 469.66,123.01 469.99,125.94 470.32,128.77 470.65,131.49 470.98,134.11 471.30,136.61 471.63,138.99 471.96,141.26 472.29,143.41 472.62,145.45 472.94,147.37 473.27,149.17 473.60,150.87 473.93,152.46 474.26,153.95 474.58,155.33 474.91,156.62 475.24,157.81 475.57,158.91 475.90,159.93 476.23,160.86 476.55,161.71 476.88,162.49 477.21,163.20 477.54,163.85 477.87,164.45 478.19,164.98 478.52,165.47 478.85,165.91 479.18,166.31 479.51,166.67 479.83,167.00 480.16,167.29 480.49,167.55 480.82,167.79 481.15,168.00 481.48,168.19 481.80,168.36 482.13,168.52 482.46,168.66 482.79,168.78 483.12,168.89 483.44,168.99 483.77,169.08 484.10,169.16 484.43,169.24 484.76,169.30 485.09,169.37 485.41,169.42 485.74,169.47 486.07,169.52 486.40,169.57 486.73,169.61 487.05,169.65 487.38,169.69 487.71,169.72 488.04,169.75 488.37,169.79 488.69,169.82 489.02,169.85 489.35,169.88 489.68,169.91 490.01,169.93 490.34,169.96 490.66,169.98 490.99,170.00 491.32,170.02 491.65,170.05 491.98,170.07 492.30,170.09 492.63,170.11 492.96,170.13 493.29,170.15 493.62,170.17 493.95,170.19 494.27,170.21 494.60,170.23 494.93,170.25 495.26,170.27 495.59,170.29 495.91,170.31 496.24,170.33 496.57,170.36 496.90,170.38 497.23,170.40 497.55,170.42 497.88,170.44 498.21,170.46 498.54,170.48 498.87,170.50 499.20,170.52 499.52,170.54 499.85,170.56 500.18,170.58 500.51,170.60 500.84,170.62 501.16,170.64 501.49,170.66 501.82,170.68 502.15,170.70 502.48,170.72 502.80,170.74 503.13,170.76 503.46,170.78 503.79,170.80 504.12,170.82 504.45,170.84 504.77,170.86 505.10,170.88 505.43,170.90 505.76,170.92 506.09,170.94 506.41,170.96 506.74,170.98 507.07,171.00 507.40,171.02 507.73,171.04 508.06,171.06 508.38,171.08 508.71,171.10 509.04,171.11 509.37,171.13 509.70,171.15 510.02,171.17 510.35,171.19 510.68,171.21 511.01,171.23 511.34,171.25 511.66,171.27 511.99,171.29 512.32,171.31 512.65,171.33 512.98,171.35 513.31,171.37 513.63,171.39 513.96,171.41 514.29,171.43 514.62,171.45 514.95,171.47 515.27,171.49 515.60,171.51 515.93,171.53 516.26,171.55 516.59,171.57 516.92,171.59 517.24,171.61 517.57,171.63 517.90,171.65 518.23,171.67 518.56,171.69 518.88,171.71 519.21,171.72 519.54,171.74 519.87,171.76 520.20,171.78 520.52,171.80 520.85,171.82 521.18,171.84 521.51,171.86 521.84,171.88 522.17,171.90 522.49,171.92 522.82,171.94 523.15,171.96 523.48,171.98 523.81,172.00 524.13,172.02 524.46,172.04 524.79,172.06 525.12,172.08 525.45,172.10 525.77,172.12 526.10,172.13 526.43,172.15 526.76,172.17 527.09,172.19 527.42,172.21 527.74,172.23 528.07,172.25 528.40,172.27" fill="none" stroke="#4a1410" stroke-width="0.6" stroke-opacity="0.8"/>
<polyline points="443.41,155.89 443.74,154.89 444.07,153.80 444.40,152.61 444.72,151.33 445.05,149.95 445.38,148.46 445.71,146.87 446.04,145.17 446.36,143.36 446.69,141.43 447.02,139.39 447.35,137.23 447.68,134.95 448.00,132.56 448.33,130.06 448.66,127.44 448.99,124.72 449.32,121.89 449.65,118.97 449.97,115.95 450.30,112.85 450.63,109.67 450.96,106.43 451.29,103.13 451.61,99.79 451.94,96.41 452.27,93.02 452.60,89.62 452.93,86.23 453.26,82.86 453.58,79.53 453.91,76.26 454.24,73.06 454.57,69.96 454.90,66.95 455.22,64.07 455.55,61.33 455.88,58.74 456.21,56.32 456.54,54.08 456.86,52.04 457.19,50.21 457.52,48.60 457.85,47.22 458.18,46.08 458.51,45.18 458.83,44.54 459.16,44.15 459.49,44.02 459.82,44.16 460.15,44.55 460.47,45.20 460.80,46.11 461.13,47.26 461.46,48.65 461.79,50.28 462.12,52.13 462.44,54.19 462.77,56.45 463.10,58.90 463.43,61.52 463.76,64.30 464.08,67.22 464.41,70.27 464.74,73.43 465.07,76.68 465.40,80.00 465.72,83.39 466.05,86.82 466.38,90.28 466.71,93.76 467.04,97.23 467.37,100.68 467.69,104.11 468.02,107.50 468.35,110.83 468.68,114.10 469.01,117.29 469.33,120.41 469.66,123.43 469.99,126.36 470.32,129.18 470.65,131.90 470.98,134.51 471.30,137.00 471.63,139.38 471.96,141.65 472.29,143.79" fill="none" stroke="#2a7a2a" stroke-width="0.7" stroke-opacity="0.8"/>
<line x1="371.5" y1="130.5" x2="367.89" y2="123.17" stroke="#8a8a8a" stroke-width="0.75"/>
<polygon points="365.6,118.5 369.33,122.46 366.46,123.87" fill="#111"/>
<line x1="389.3" y1="117.3" x2="387.94" y2="112.79" stroke="#8a8a8a" stroke-width="0.75"/>
<polygon points="386.5,108.0 389.47,112.33 386.41,113.25" fill="#111"/>
<line x1="433.7" y1="94.5" x2="428.40" y2="79.12" stroke="#8a8a8a" stroke-width="0.75"/>
<polygon points="426.7,74.2 429.91,78.59 426.88,79.64" fill="#111"/>
<line x1="456.0" y1="41.0" x2="452.80" y2="38.53" stroke="#8a8a8a" stroke-width="0.75"/>
<polygon points="449.0,35.6 453.78,37.27 451.82,39.80" fill="#111"/>
<rect x="296.6" y="238.2" width="235.39999999999998" height="175.90000000000003" fill="none" stroke="#333" stroke-width="1.1"/>
<line x1="513.80" y1="414.1" x2="513.80" y2="417.6" stroke="#333" stroke-width="1.0"/>
<line x1="495.70" y1="414.1" x2="495.70" y2="415.90000000000003" stroke="#333" stroke-width="1.0"/>
<line x1="477.60" y1="414.1" x2="477.60" y2="417.6" stroke="#333" stroke-width="1.0"/>
<line x1="459.50" y1="414.1" x2="459.50" y2="415.90000000000003" stroke="#333" stroke-width="1.0"/>
<line x1="441.40" y1="414.1" x2="441.40" y2="417.6" stroke="#333" stroke-width="1.0"/>
<line x1="423.30" y1="414.1" x2="423.30" y2="415.90000000000003" stroke="#333" stroke-width="1.0"/>
<line x1="405.20" y1="414.1" x2="405.20" y2="417.6" stroke="#333" stroke-width="1.0"/>
<line x1="387.10" y1="414.1" x2="387.10" y2="415.90000000000003" stroke="#333" stroke-width="1.0"/>
<line x1="369.00" y1="414.1" x2="369.00" y2="417.6" stroke="#333" stroke-width="1.0"/>
<line x1="350.90" y1="414.1" x2="350.90" y2="415.90000000000003" stroke="#333" stroke-width="1.0"/>
<line x1="332.80" y1="414.1" x2="332.80" y2="417.6" stroke="#333" stroke-width="1.0"/>
<line x1="314.70" y1="414.1" x2="314.70" y2="415.90000000000003" stroke="#333" stroke-width="1.0"/>
<line x1="296.60" y1="414.1" x2="296.60" y2="417.6" stroke="#333" stroke-width="1.0"/>
<text class="lbl" transform="translate(514.20,428.72) scale(0.9119,1)" font-size="9.5" font-weight="bold" fill="#111" text-anchor="middle">162</text>
<text class="lbl" transform="translate(478.00,428.72) scale(0.9119,1)" font-size="9.5" font-weight="bold" fill="#111" text-anchor="middle">164</text>
<text class="lbl" transform="translate(441.80,428.72) scale(0.9119,1)" font-size="9.5" font-weight="bold" fill="#111" text-anchor="middle">166</text>
<text class="lbl" transform="translate(405.60,428.72) scale(0.9119,1)" font-size="9.5" font-weight="bold" fill="#111" text-anchor="middle">168</text>
<text class="lbl" transform="translate(369.40,428.72) scale(0.9119,1)" font-size="9.5" font-weight="bold" fill="#111" text-anchor="middle">170</text>
<text class="lbl" transform="translate(333.20,428.72) scale(0.9119,1)" font-size="9.5" font-weight="bold" fill="#111" text-anchor="middle">172</text>
<text id="d_t174" class="lbl" transform="translate(297.00,428.72) scale(0.9119,1)" font-size="9.5" font-weight="bold" fill="#111" stroke="#111" stroke-width="0.16" text-anchor="middle">174</text>
<text id="d_title" class="lbl" transform="translate(303.10,255.81) scale(1.0657,1)" font-size="12.4" font-weight="bold" fill="#111" stroke="#111" stroke-width="0.16">LS-sulfur carbon</text>
<text id="d_sulf" class="lbl" transform="translate(356.82,276.03) scale(1.0089,1)" font-size="9.4" font-weight="bold" fill="#111" stroke="#111" stroke-width="0.16">Sulfate</text>
<text id="d_thio" class="lbl" transform="translate(431.80,249.52) scale(1.0190,1)" font-size="9.4" font-weight="bold" fill="#111" stroke="#111" stroke-width="0.16">Thiophene</text>
<text id="d_xl" class="lbl" transform="translate(359.88,444.98) scale(1.0745,1)" font-size="10.8" font-weight="bold" fill="#111" stroke="#111" stroke-width="0.16">Binding energy (eV)</text>
<text id="d_yl" class="lbl" transform="translate(288.75,363.01) rotate(-90) scale(1.0143,1)" font-size="10.6" font-weight="bold" fill="#111" stroke="#111" stroke-width="0.16">Intensity (a.u.)</text>
<text id="d_so12" class="lbl" transform="translate(371.82,332.55) rotate(-90) scale(0.9807,1)" font-size="9.2" font-weight="bold" fill="#111" stroke="#111" stroke-width="0.16">S-O 2p<tspan font-size="6.0" dy="2.0">1/2</tspan></text>
<text id="d_so32" class="lbl" transform="translate(398.68,328.00) rotate(-90) scale(0.9965,1)" font-size="9.2" font-weight="bold" fill="#111" stroke="#111" stroke-width="0.16">S-O 2p<tspan font-size="6.0" dy="2.0">3/2</tspan></text>
<text id="d_s12" class="lbl" transform="translate(449.96,288.55) rotate(-90) scale(0.9093,1)" font-size="9.5" font-weight="bold" fill="#111" stroke="#111" stroke-width="0.16">S2p<tspan font-size="6.0" dy="2.0">1/2</tspan></text>
<text id="d_s32" class="lbl" transform="translate(501.84,265.00) rotate(-90) scale(0.9725,1)" font-size="9.5" font-weight="bold" fill="#111" stroke="#111" stroke-width="0.16">S2p<tspan font-size="6.0" dy="2.0">3/2</tspan></text>
<polyline points="334.20,393.50 334.60,393.47 335.00,393.43 335.40,393.40 335.80,393.36 336.20,393.33 336.60,393.29 337.00,393.25 337.40,393.21 337.80,393.17 338.20,393.13 338.60,393.09 339.00,393.04 339.40,393.00 339.80,392.95 340.20,392.91 340.60,392.86 341.00,392.81 341.40,392.76 341.80,392.71 342.20,392.65 342.60,392.60 343.00,392.54 343.40,392.49 343.80,392.43 344.20,392.37 344.60,392.31 345.00,392.25 345.40,392.19 345.80,392.12 346.20,392.06 346.60,391.99 347.00,391.92 347.40,391.85 347.80,391.78 348.20,391.71 348.60,391.63 349.00,391.56 349.40,391.48 349.80,391.40 350.20,391.32 350.60,391.24 351.00,391.16 351.40,391.07 351.80,390.99 352.20,390.90 352.60,390.81 353.00,390.72 353.40,390.63 353.80,390.53 354.20,390.44 354.60,390.34 355.00,390.24 355.40,390.14 355.80,390.04 356.20,389.94 356.60,389.83 357.00,389.73 357.40,389.62 357.80,389.51 358.20,389.40 358.60,389.29 359.00,389.18 359.40,389.06 359.80,388.95 360.20,388.83 360.60,388.71 361.00,388.59 361.40,388.47 361.80,388.35 362.20,388.23 362.60,388.11 363.00,387.98 363.40,387.86 363.80,387.73 364.20,387.61 364.60,387.48 365.00,387.36 365.40,387.23 365.80,387.10 366.20,386.98 366.60,386.85 367.00,386.72 367.40,386.59 367.80,386.47 368.20,386.34 368.60,386.21 369.00,386.09 369.40,385.96 369.80,385.84 370.20,385.72 370.60,385.59 371.00,385.47 371.40,385.35 371.80,385.23 372.20,385.12 372.60,385.00 373.00,384.88 373.40,384.77 373.80,384.66 374.20,384.55 374.60,384.44 375.00,384.33 375.40,384.22 375.80,384.12 376.20,384.02 376.60,383.92 377.00,383.82 377.40,383.72 377.80,383.63 378.20,383.54 378.60,383.44 379.00,383.36 379.40,383.27 379.80,383.18 380.20,383.10 380.60,383.02 381.00,382.94 381.40,382.86 381.80,382.78 382.20,382.71 382.60,382.63 383.00,382.56 383.40,382.49 383.80,382.42 384.20,382.35 384.60,382.29 385.00,382.22 385.40,382.15 385.80,382.09 386.20,382.03 386.60,381.97 387.00,381.91 387.40,381.85 387.80,381.79 388.20,381.73 388.60,381.67 389.00,381.62 389.40,381.56 389.80,381.50 390.20,381.45 390.60,381.39 391.00,381.34 391.40,381.29 391.80,381.23 392.20,381.18 392.60,381.13 393.00,381.07 393.40,381.02 393.80,380.97 394.20,380.92 394.60,380.87 395.00,380.82 395.40,380.77 395.80,380.72 396.20,380.67 396.60,380.62 397.00,380.57 397.40,380.52 397.80,380.47 398.20,380.42 398.60,380.38 399.00,380.33 399.40,380.28 399.80,380.24 400.20,380.20 400.60,380.17 401.00,380.13 401.40,380.10 401.80,380.07 402.20,380.04 402.60,380.02 403.00,379.99 403.40,379.96 403.80,379.93 404.20,379.91 404.60,379.88 405.00,379.86 405.40,379.83 405.80,379.81 406.20,379.79 406.60,379.77 407.00,379.75 407.40,379.73 407.80,379.71 408.20,379.69 408.60,379.68 409.00,379.66 409.40,379.65 409.80,379.63 410.20,379.62 410.60,379.61 411.00,379.60 411.40,379.59 411.80,379.58 412.20,379.58 412.60,379.57 413.00,379.57 413.40,379.56 413.80,379.56 414.20,379.56 414.60,379.56 415.00,379.56 415.40,379.56 415.80,379.57 416.20,379.57 416.60,379.58 417.00,379.58 417.40,379.59 417.80,379.60 418.20,379.60 418.60,379.61 419.00,379.62 419.40,379.63 419.80,379.64 420.20,379.65 420.60,379.66 421.00,379.66 421.40,379.67 421.80,379.67 422.20,379.68 422.60,379.68 423.00,379.68 423.40,379.69 423.80,379.69 424.20,379.69 424.60,379.68 425.00,379.68 425.40,379.67 425.80,379.66 426.20,379.64 426.60,379.62 427.00,379.60 427.40,379.57 427.80,379.53 428.20,379.48 428.60,379.43 429.00,379.37 429.40,379.30 429.80,379.21 430.20,379.12 430.60,379.01 431.00,378.88 431.40,378.74 431.80,378.58 432.20,378.40 432.60,378.20 433.00,377.97 433.40,377.72 433.80,377.44 434.20,377.13 434.60,376.79 435.00,376.41 435.40,376.00 435.80,375.55 436.20,375.05 436.60,374.52 437.00,374.00 437.40,373.11 437.80,372.22 438.20,371.31 438.60,370.35 439.00,369.30 439.40,368.13 439.80,366.87" fill="none" stroke="#f5c0d0" stroke-width="7" stroke-opacity="0.45" stroke-linejoin="round"/>
<rect x="464.5" y="264" width="16.5" height="34" fill="#fbdde8" fill-opacity="0.4"/>
<rect x="440" y="313" width="25" height="14" fill="#fbdde8" fill-opacity="0.3"/>
<polygon points="449.00,391.15 449.40,391.31 449.80,391.47 450.20,391.63 450.60,391.79 451.00,391.94 451.40,392.10 451.80,392.25 452.20,392.41 452.60,392.56 453.00,392.72 453.40,392.87 453.80,393.02 454.20,393.17 454.60,393.32 455.00,393.47 455.40,393.68 455.80,393.88 456.20,394.08 456.60,394.28 457.00,394.48 457.40,394.68 457.80,394.88 458.20,395.08 458.60,395.28 459.00,395.47 459.40,395.67 459.80,395.86 460.20,396.05 460.60,396.25 461.00,396.44 461.40,396.63 461.80,396.81 462.20,397.00 462.60,397.18 463.00,397.37 463.40,397.55 463.80,397.73 464.20,397.91 464.60,398.08 465.00,398.26 465.40,398.44 465.80,398.61 466.20,398.78 466.60,398.96 467.00,399.13 467.40,399.30 467.80,399.46 468.20,399.63 468.60,399.80 469.00,399.96 469.40,400.13 469.80,400.29 470.20,400.44 470.60,400.56 471.00,400.68 471.40,400.81 471.80,400.93 472.20,401.05 472.60,401.17 473.00,401.29 473.40,401.40 473.80,401.52 474.20,401.63 474.60,401.75 475.00,401.86 475.40,401.97 475.80,402.08 476.20,402.19 476.60,402.30 477.00,402.41 477.40,402.52 477.80,402.62 478.20,402.73 478.60,402.83 479.00,402.94 479.40,403.04 479.80,403.14 480.20,403.23 480.60,403.30 481.00,403.37 481.40,403.45 481.80,403.52 482.20,403.59 482.60,403.65 483.00,403.72 483.40,403.79 483.80,403.86 484.20,403.92 484.60,403.99 485.00,404.05 485.40,404.12 485.80,404.18 486.20,404.24 486.60,404.30 487.00,404.36 487.40,404.42 487.80,404.48 488.20,404.54 488.60,404.60 489.00,404.66 489.40,404.71 489.80,404.77 490.20,404.83 490.60,404.88 491.00,404.94 491.40,404.99 491.80,405.05 492.20,405.10 492.60,405.15 493.00,405.21 493.40,405.26 493.80,405.31 494.20,405.36 494.60,405.41 495.00,405.46 495.40,405.49 495.80,405.52 496.20,405.55 496.60,405.58 497.00,405.60 497.40,405.63 497.80,405.66 498.20,405.68 498.60,405.71 499.00,405.74 499.40,405.76 499.80,405.79 500.20,405.81 500.60,405.84 501.00,405.86 501.40,405.89 501.80,405.91 502.20,405.94 502.60,405.96 503.00,405.98 503.40,406.01 503.80,406.03 504.20,406.05 504.60,406.07 505.00,406.10 505.40,406.12 505.80,406.14 506.20,406.16 506.60,406.18 507.00,406.20 507.40,406.23 507.80,406.25 507.80,406.34 507.40,406.32 507.00,406.31 506.60,406.29 506.20,406.27 505.80,406.25 505.40,406.24 505.00,406.22 504.60,406.20 504.20,406.19 503.80,406.17 503.40,406.15 503.00,406.14 502.60,406.12 502.20,406.10 501.80,406.09 501.40,406.07 501.00,406.05 500.60,406.04 500.20,406.02 499.80,406.00 499.40,405.99 499.00,405.97 498.60,405.95 498.20,405.93 497.80,405.92 497.40,405.90 497.00,405.88 496.60,405.87 496.20,405.85 495.80,405.83 495.40,405.82 495.00,405.80 494.60,405.76 494.20,405.73 493.80,405.69 493.40,405.65 493.00,405.61 492.60,405.58 492.20,405.54 491.80,405.50 491.40,405.46 491.00,405.43 490.60,405.39 490.20,405.35 489.80,405.31 489.40,405.28 489.00,405.24 488.60,405.20 488.20,405.17 487.80,405.13 487.40,405.09 487.00,405.05 486.60,405.02 486.20,404.98 485.80,404.94 485.40,404.90 485.00,404.87 484.60,404.83 484.20,404.79 483.80,404.75 483.40,404.72 483.00,404.68 482.60,404.64 482.20,404.61 481.80,404.57 481.40,404.53 481.00,404.49 480.60,404.46 480.20,404.42 479.80,404.37 479.40,404.30 479.00,404.24 478.60,404.18 478.20,404.11 477.80,404.05 477.40,403.98 477.00,403.92 476.60,403.86 476.20,403.79 475.80,403.73 475.40,403.66 475.00,403.60 474.60,403.54 474.20,403.47 473.80,403.41 473.40,403.34 473.00,403.28 472.60,403.22 472.20,403.15 471.80,403.09 471.40,403.02 471.00,402.96 470.60,402.90 470.20,402.83 469.80,402.75 469.40,402.65 469.00,402.55 468.60,402.45 468.20,402.35 467.80,402.25 467.40,402.15 467.00,402.05 466.60,401.95 466.20,401.85 465.80,401.75 465.40,401.65 465.00,401.55 464.60,401.45 464.20,401.35 463.80,401.25 463.40,401.15 463.00,401.05 462.60,400.95 462.20,400.85 461.80,400.75 461.40,400.65 461.00,400.54 460.60,400.44 460.20,400.34 459.80,400.23 459.40,400.13 459.00,400.03 458.60,399.93 458.20,399.82 457.80,399.72 457.40,399.62 457.00,399.51 456.60,399.41 456.20,399.31 455.80,399.21 455.40,399.10 455.00,399.00 454.60,398.95 454.20,398.90 453.80,398.86 453.40,398.81 453.00,398.76 452.60,398.71 452.20,398.66 451.80,398.62 451.40,398.57 451.00,398.52 450.60,398.47 450.20,398.42 449.80,398.38 449.40,398.33 449.00,398.28" fill="#cdf3f3" fill-opacity="0.9"/>
<polyline points="296.60,394.80 297.00,394.80 297.40,394.81 297.80,394.81 298.20,394.82 298.60,394.82 299.00,394.83 299.40,394.83 299.80,394.84 300.20,394.85 300.60,394.85 301.00,394.86 301.40,394.86 301.80,394.87 302.20,394.87 302.60,394.88 303.00,394.88 303.40,394.89 303.80,394.89 304.20,394.90 304.60,394.90 305.00,394.91 305.40,394.91 305.80,394.92 306.20,394.92 306.60,394.93 307.00,394.93 307.40,394.94 307.80,394.94 308.20,394.95 308.60,394.95 309.00,394.96 309.40,394.96 309.80,394.97 310.20,394.97 310.60,394.98 311.00,394.98 311.40,394.99 311.80,394.99 312.20,395.00 312.60,395.00 313.00,395.00 313.40,395.01 313.80,395.01 314.20,395.02 314.60,395.02 315.00,395.03 315.40,395.03 315.80,395.03 316.20,395.04 316.60,395.04 317.00,395.05 317.40,395.05 317.80,395.05 318.20,395.06 318.60,395.06 319.00,395.06 319.40,395.07 319.80,395.07 320.20,395.07 320.60,395.08 321.00,395.08 321.40,395.08 321.80,395.08 322.20,395.09 322.60,395.09 323.00,395.09 323.40,395.09 323.80,395.10 324.20,395.10 324.60,395.10 325.00,395.10 325.40,395.10 325.80,395.10 326.20,395.11 326.60,395.11 327.00,395.11 327.40,395.11 327.80,395.11 328.20,395.11 328.60,395.11 329.00,395.11 329.40,395.11 329.80,395.11 330.20,395.11 330.60,395.11 331.00,395.10 331.40,395.10 331.80,395.10 332.20,395.10 332.60,395.10 333.00,395.09 333.40,395.09 333.80,395.09 334.20,395.08 334.60,395.08 335.00,395.08 335.40,395.07 335.80,395.07 336.20,395.06 336.60,395.06 337.00,395.05 337.40,395.04 337.80,395.04 338.20,395.03 338.60,395.02 339.00,395.01 339.40,395.00 339.80,395.00 340.20,394.99 340.60,394.98 341.00,394.96 341.40,394.95 341.80,394.94 342.20,394.93 342.60,394.91 343.00,394.90 343.40,394.89 343.80,394.87 344.20,394.86 344.60,394.84 345.00,394.82 345.40,394.81 345.80,394.79 346.20,394.77 346.60,394.75 347.00,394.73 347.40,394.71 347.80,394.69 348.20,394.67 348.60,394.64 349.00,394.62 349.40,394.60 349.80,394.57 350.20,394.55 350.60,394.52 351.00,394.49 351.40,394.46 351.80,394.43 352.20,394.40 352.60,394.37 353.00,394.34 353.40,394.31 353.80,394.28 354.20,394.24 354.60,394.21 355.00,394.17 355.40,394.13 355.80,394.10 356.20,394.06 356.60,394.02 357.00,393.98 357.40,393.93 357.80,393.89 358.20,393.85 358.60,393.80 359.00,393.76 359.40,393.71 359.80,393.66 360.20,393.61 360.60,393.56 361.00,393.51 361.40,393.46 361.80,393.41 362.20,393.35 362.60,393.30 363.00,393.24 363.40,393.18 363.80,393.12 364.20,393.06 364.60,393.00 365.00,392.94 365.40,392.87 365.80,392.81 366.20,392.74 366.60,392.68 367.00,392.61 367.40,392.54 367.80,392.47 368.20,392.40 368.60,392.33 369.00,392.25 369.40,392.18 369.80,392.10 370.20,392.02 370.60,391.95 371.00,391.87 371.40,391.79 371.80,391.70 372.20,391.62 372.60,391.54 373.00,391.45 373.40,391.37 373.80,391.28 374.20,391.19 374.60,391.11 375.00,391.02 375.40,390.92 375.80,390.83 376.20,390.74 376.60,390.65 377.00,390.55 377.40,390.46 377.80,390.36 378.20,390.26 378.60,390.17 379.00,390.07 379.40,389.97 379.80,389.87 380.20,389.77 380.60,389.67 381.00,389.57 381.40,389.46 381.80,389.36 382.20,389.26 382.60,389.15 383.00,389.05 383.40,388.94 383.80,388.84 384.20,388.73 384.60,388.63 385.00,388.52 385.40,388.41 385.80,388.31 386.20,388.20 386.60,388.09 387.00,387.98 387.40,387.88 387.80,387.77 388.20,387.66 388.60,387.55 389.00,387.45 389.40,387.34 389.80,387.23 390.20,387.13 390.60,387.02 391.00,386.91 391.40,386.81 391.80,386.70 392.20,386.60 392.60,386.50 393.00,386.39 393.40,386.29 393.80,386.19 394.20,386.08 394.60,385.98 395.00,385.88 395.40,385.79 395.80,385.69 396.20,385.59 396.60,385.49 397.00,385.40 397.40,385.30 397.80,385.21 398.20,385.12 398.60,385.03 399.00,384.94 399.40,384.85 399.80,384.77 400.20,384.69 400.60,384.62 401.00,384.55 401.40,384.48 401.80,384.42 402.20,384.36 402.60,384.29 403.00,384.23 403.40,384.17 403.80,384.12 404.20,384.06 404.60,384.01 405.00,383.96 405.40,383.91 405.80,383.86 406.20,383.82 406.60,383.78 407.00,383.74 407.40,383.70 407.80,383.66 408.20,383.63 408.60,383.60 409.00,383.57 409.40,383.54 409.80,383.52 410.20,383.49 410.60,383.47 411.00,383.46 411.40,383.44 411.80,383.43 412.20,383.42 412.60,383.41 413.00,383.40 413.40,383.40 413.80,383.40 414.20,383.40 414.60,383.41 415.00,383.41 415.40,383.42 415.80,383.44 416.20,383.45 416.60,383.47 417.00,383.49 417.40,383.51 417.80,383.54 418.20,383.56 418.60,383.59 419.00,383.63 419.40,383.66 419.80,383.70 420.20,383.74 420.60,383.77 421.00,383.81 421.40,383.86 421.80,383.90 422.20,383.95 422.60,384.00 423.00,384.05 423.40,384.11 423.80,384.16 424.20,384.22 424.60,384.28 425.00,384.35 425.40,384.41 425.80,384.48 426.20,384.55 426.60,384.62 427.00,384.70 427.40,384.77 427.80,384.85 428.20,384.93 428.60,385.02 429.00,385.10 429.40,385.19 429.80,385.28 430.20,385.37 430.60,385.46 431.00,385.55 431.40,385.65 431.80,385.74 432.20,385.84 432.60,385.94 433.00,386.04 433.40,386.15 433.80,386.25 434.20,386.36 434.60,386.46 435.00,386.57 435.40,386.68 435.80,386.79 436.20,386.91 436.60,387.02 437.00,387.13 437.40,387.25 437.80,387.36 438.20,387.48 438.60,387.60 439.00,387.72 439.40,387.84 439.80,387.96 440.20,388.08 440.60,388.20 441.00,388.32 441.40,388.44 441.80,388.57 442.20,388.69 442.60,388.81 443.00,388.94 443.40,389.06 443.80,389.18 444.20,389.31 444.60,389.43 445.00,389.56 445.40,389.72 445.80,389.88 446.20,390.04 446.60,390.20 447.00,390.36 447.40,390.52 447.80,390.68 448.20,390.84 448.60,391.00 449.00,391.15 449.40,391.31 449.80,391.47 450.20,391.63 450.60,391.79 451.00,391.94 451.40,392.10 451.80,392.25 452.20,392.41 452.60,392.56 453.00,392.72 453.40,392.87 453.80,393.02 454.20,393.17 454.60,393.32 455.00,393.47 455.40,393.68 455.80,393.88 456.20,394.08 456.60,394.28 457.00,394.48 457.40,394.68 457.80,394.88 458.20,395.08 458.60,395.28 459.00,395.47 459.40,395.67 459.80,395.86 460.20,396.05 460.60,396.25 461.00,396.44 461.40,396.63 461.80,396.81 462.20,397.00 462.60,397.18 463.00,397.37 463.40,397.55 463.80,397.73 464.20,397.91 464.60,398.08 465.00,398.26 465.40,398.44 465.80,398.61 466.20,398.78 466.60,398.96 467.00,399.13 467.40,399.30 467.80,399.46 468.20,399.63 468.60,399.80 469.00,399.96 469.40,400.13 469.80,400.29 470.20,400.44 470.60,400.56 471.00,400.68 471.40,400.81 471.80,400.93 472.20,401.05 472.60,401.17 473.00,401.29 473.40,401.40 473.80,401.52 474.20,401.63 474.60,401.75 475.00,401.86 475.40,401.97 475.80,402.08 476.20,402.19 476.60,402.30 477.00,402.41 477.40,402.52 477.80,402.62 478.20,402.73 478.60,402.83 479.00,402.94 479.40,403.04 479.80,403.14 480.20,403.23 480.60,403.30 481.00,403.37 481.40,403.45 481.80,403.52 482.20,403.59 482.60,403.65 483.00,403.72 483.40,403.79 483.80,403.86 484.20,403.92 484.60,403.99 485.00,404.05 485.40,404.12 485.80,404.18 486.20,404.24 486.60,404.30 487.00,404.36 487.40,404.42 487.80,404.48 488.20,404.54 488.60,404.60 489.00,404.66 489.40,404.71 489.80,404.77 490.20,404.83 490.60,404.88 491.00,404.94 491.40,404.99 491.80,405.05 492.20,405.10 492.60,405.15 493.00,405.21 493.40,405.26 493.80,405.31 494.20,405.36 494.60,405.41 495.00,405.46 495.40,405.49 495.80,405.52 496.20,405.55 496.60,405.58 497.00,405.60 497.40,405.63 497.80,405.66 498.20,405.68 498.60,405.71 499.00,405.74 499.40,405.76 499.80,405.79 500.20,405.81 500.60,405.84 501.00,405.86 501.40,405.89 501.80,405.91 502.20,405.94 502.60,405.96 503.00,405.98 503.40,406.01 503.80,406.03 504.20,406.05 504.60,406.07 505.00,406.10 505.40,406.12 505.80,406.14 506.20,406.16 506.60,406.18 507.00,406.20 507.40,406.23 507.80,406.25 508.20,406.27 508.60,406.29 509.00,406.31 509.40,406.33 509.80,406.35 510.20,406.37 510.60,406.39 511.00,406.41 511.40,406.43 511.80,406.45 512.20,406.47 512.60,406.49 513.00,406.51 513.40,406.53 513.80,406.54 514.20,406.56 514.60,406.58 515.00,406.59 515.40,406.61 515.80,406.62 516.20,406.64 516.60,406.65 517.00,406.67 517.40,406.68 517.80,406.70 518.20,406.71 518.60,406.73 519.00,406.74 519.40,406.76 519.80,406.77 520.20,406.78 520.60,406.80 521.00,406.81 521.40,406.83 521.80,406.84 522.20,406.86 522.60,406.87 523.00,406.88 523.40,406.90 523.80,406.91 524.20,406.93 524.60,406.94 525.00,406.95 525.40,406.97 525.80,406.98 526.20,407.00 526.60,407.01 527.00,407.02 527.40,407.04 527.80,407.05 528.20,407.07 528.60,407.08 529.00,407.09 529.40,407.11 529.80,407.12 530.20,407.13 530.60,407.15 531.00,407.16 531.40,407.17 531.80,407.19" fill="none" stroke="#aac82a" stroke-width="1.1"/>
<polyline points="407.40,395.48 407.80,395.49 408.20,395.49 408.60,395.49 409.00,395.49 409.40,395.49 409.80,395.49 410.20,395.49 410.60,395.49 411.00,395.49 411.40,395.49 411.80,395.48 412.20,395.48 412.60,395.48 413.00,395.47 413.40,395.47 413.80,395.46 414.20,395.46 414.60,395.45 415.00,395.45 415.40,395.44 415.80,395.43 416.20,395.42 416.60,395.41 417.00,395.40 417.40,395.38 417.80,395.37 418.20,395.36 418.60,395.34 419.00,395.32 419.40,395.31 419.80,395.29 420.20,395.26 420.60,395.24 421.00,395.21 421.40,395.18 421.80,395.14 422.20,395.11 422.60,395.07 423.00,395.03 423.40,394.99 423.80,394.95 424.20,394.90 424.60,394.85 425.00,394.79 425.40,394.73 425.80,394.66 426.20,394.59 426.60,394.52 427.00,394.44 427.40,394.35 427.80,394.25 428.20,394.15 428.60,394.03 429.00,393.91 429.40,393.77 429.80,393.63 430.20,393.47 430.60,393.29 431.00,393.10 431.40,392.89 431.80,392.66 432.20,392.41 432.60,392.14 433.00,391.85 433.40,391.52 433.80,391.17 434.20,390.79 434.60,390.38 435.00,389.94 435.40,389.45 435.80,388.93 436.20,388.37 436.60,387.77 437.00,387.12 437.40,386.42 437.80,385.67 438.20,384.87 438.60,384.02 439.00,383.12 439.40,382.16 439.80,381.14 440.20,380.07 440.60,378.94 441.00,377.75 441.40,376.50 441.80,375.19 442.20,373.83 442.60,372.41 443.00,370.93 443.40,369.41 443.80,367.83 444.20,366.21 444.60,364.55 445.00,362.85 445.40,361.16 445.80,359.44 446.20,357.69 446.60,355.94 447.00,354.17 447.40,352.41 447.80,350.66 448.20,348.93 448.60,347.24 449.00,345.58 449.40,343.98 449.80,342.44 450.20,340.98 450.60,339.60 451.00,338.33 451.40,337.18 451.80,336.15 452.20,335.26 452.60,334.52 453.00,333.93 453.40,333.51 453.80,333.27 454.20,333.19 454.60,333.29 455.00,333.57 455.40,334.08 455.80,334.75 456.20,335.58 456.60,336.57 457.00,337.70 457.40,338.96 457.80,340.34 458.20,341.82 458.60,343.40 459.00,345.06 459.40,346.79 459.80,348.58 460.20,350.42 460.60,352.29 461.00,354.18 461.40,356.09 461.80,358.00 462.20,359.91 462.60,361.81 463.00,363.69 463.40,365.54 463.80,367.37 464.20,369.15 464.60,370.90 465.00,372.61 465.40,374.27 465.80,375.87 466.20,377.42 466.60,378.92 467.00,380.36 467.40,381.75 467.80,383.07 468.20,384.34 468.60,385.55 469.00,386.70 469.40,387.80 469.80,388.84 470.20,389.80 470.60,390.70 471.00,391.54 471.40,392.33 471.80,393.07 472.20,393.77 472.60,394.43 473.00,395.04 473.40,395.62 473.80,396.15 474.20,396.65 474.60,397.12 475.00,397.56 475.40,397.97 475.80,398.35 476.20,398.71 476.60,399.04 477.00,399.35 477.40,399.65 477.80,399.92 478.20,400.18 478.60,400.42 479.00,400.65 479.40,400.87 479.80,401.08 480.20,401.26 480.60,401.42 481.00,401.56 481.40,401.71 481.80,401.84 482.20,401.97 482.60,402.09 483.00,402.21 483.40,402.32 483.80,402.43 484.20,402.53 484.60,402.63 485.00,402.73 485.40,402.82 485.80,402.91 486.20,403.00 486.60,403.08 487.00,403.17 487.40,403.25 487.80,403.33 488.20,403.41 488.60,403.48 489.00,403.56 489.40,403.63 489.80,403.71 490.20,403.78 490.60,403.85 491.00,403.92 491.40,403.98 491.80,404.05 492.20,404.12 492.60,404.18 493.00,404.25 493.40,404.31 493.80,404.37 494.20,404.44 494.60,404.50 495.00,404.56 495.40,404.60 495.80,404.64 496.20,404.68 496.60,404.71 497.00,404.75 497.40,404.79 497.80,404.82 498.20,404.86 498.60,404.89 499.00,404.93 499.40,404.96 499.80,405.00 500.20,405.03 500.60,405.06 501.00,405.10" fill="none" stroke="#8c5ee8" stroke-width="1.1"/>
<polyline points="429.40,395.60 429.80,395.58 430.20,395.56 430.60,395.55 431.00,395.53 431.40,395.51 431.80,395.49 432.20,395.47 432.60,395.45 433.00,395.43 433.40,395.40 433.80,395.38 434.20,395.36 434.60,395.33 435.00,395.30 435.40,395.27 435.80,395.25 436.20,395.22 436.60,395.18 437.00,395.15 437.40,395.12 437.80,395.08 438.20,395.04 438.60,395.01 439.00,394.97 439.40,394.92 439.80,394.88 440.20,394.83 440.60,394.79 441.00,394.74 441.40,394.69 441.80,394.63 442.20,394.58 442.60,394.52 443.00,394.46 443.40,394.40 443.80,394.33 444.20,394.26 444.60,394.19 445.00,394.11 445.40,394.07 445.80,394.02 446.20,393.96 446.60,393.91 447.00,393.84 447.40,393.77 447.80,393.70 448.20,393.61 448.60,393.52 449.00,393.42 449.40,393.31 449.80,393.19 450.20,393.06 450.60,392.92 451.00,392.76 451.40,392.58 451.80,392.39 452.20,392.18 452.60,391.94 453.00,391.68 453.40,391.40 453.80,391.08 454.20,390.73 454.60,390.35 455.00,389.93 455.40,389.51 455.80,389.05 456.20,388.54 456.60,387.98 457.00,387.35 457.40,386.65 457.80,385.89 458.20,385.05 458.60,384.12 459.00,383.11 459.40,382.01 459.80,380.80 460.20,379.50 460.60,378.08 461.00,376.55 461.40,374.90 461.80,373.13 462.20,371.23 462.60,369.19 463.00,367.02 463.40,364.72 463.80,362.28 464.20,359.70 464.60,356.98 465.00,354.13 465.40,351.14 465.80,348.03 466.20,344.79 466.60,341.44 467.00,337.98 467.40,334.42 467.80,330.77 468.20,327.05 468.60,323.27 469.00,319.44 469.40,315.59 469.80,311.73 470.20,307.88 470.60,304.05 471.00,300.28 471.40,296.61 471.80,293.06 472.20,289.66 472.60,286.46 473.00,283.47 473.40,280.73 473.80,278.28 474.20,276.14 474.60,274.34 475.00,272.91 475.40,271.87 475.80,271.24 476.20,271.02 476.60,271.21 477.00,271.83 477.40,272.86 477.80,274.28 478.20,276.07 478.60,278.22 479.00,280.69 479.40,283.46 479.80,286.49 480.20,289.74 480.60,293.17 481.00,296.77 481.40,300.50 481.80,304.34 482.20,308.25 482.60,312.21 483.00,316.20 483.40,320.19 483.80,324.17 484.20,328.10 484.60,331.99 485.00,335.80 485.40,339.53 485.80,343.17 486.20,346.70 486.60,350.11 487.00,353.41 487.40,356.58 487.80,359.62 488.20,362.52 488.60,365.28 489.00,367.91 489.40,370.40 489.80,372.76 490.20,374.98 490.60,377.07 491.00,379.02 491.40,380.86 491.80,382.57 492.20,384.17 492.60,385.65 493.00,387.03 493.40,388.31 493.80,389.50 494.20,390.59 494.60,391.60 495.00,392.53 495.40,393.37 495.80,394.14 496.20,394.85 496.60,395.50 497.00,396.10 497.40,396.65 497.80,397.15 498.20,397.61 498.60,398.04 499.00,398.43 499.40,398.79 499.80,399.12 500.20,399.43 500.60,399.72 501.00,399.98 501.40,400.23 501.80,400.46 502.20,400.67 502.60,400.87 503.00,401.06 503.40,401.24 503.80,401.41 504.20,401.57 504.60,401.72 505.00,401.86 505.40,402.00 505.80,402.13 506.20,402.25 506.60,402.37 507.00,402.49 507.40,402.60 507.80,402.71 508.20,402.81 508.60,402.91 509.00,403.01 509.40,403.10 509.80,403.19 510.20,403.28 510.60,403.37 511.00,403.45 511.40,403.53 511.80,403.61 512.20,403.69 512.60,403.77 513.00,403.84 513.40,403.91 513.80,403.98 514.20,404.05 514.60,404.11 515.00,404.18 515.40,404.24 515.80,404.30 516.20,404.35 516.60,404.41 517.00,404.47 517.40,404.52 517.80,404.58 518.20,404.63 518.60,404.68 519.00,404.73 519.40,404.78 519.80,404.83 520.20,404.87 520.60,404.92 521.00,404.97 521.40,405.01 521.80,405.06 522.20,405.10 522.60,405.14 523.00,405.18" fill="none" stroke="#4e8a4e" stroke-width="1.1"/>
<polyline points="296.60,394.07 297.00,394.07 297.40,394.07 297.80,394.07 298.20,394.07 298.60,394.06 299.00,394.06 299.40,394.06 299.80,394.06 300.20,394.06 300.60,394.06 301.00,394.05 301.40,394.05 301.80,394.05 302.20,394.05 302.60,394.05 303.00,394.04 303.40,394.04 303.80,394.04 304.20,394.03 304.60,394.03 305.00,394.03 305.40,394.03 305.80,394.02 306.20,394.02 306.60,394.02 307.00,394.01 307.40,394.01 307.80,394.00 308.20,394.00 308.60,394.00 309.00,393.99 309.40,393.99 309.80,393.98 310.20,393.98 310.60,393.97 311.00,393.97 311.40,393.96 311.80,393.96 312.20,393.95 312.60,393.95 313.00,393.94 313.40,393.93 313.80,393.93 314.20,393.92 314.60,393.91 315.00,393.91 315.40,393.90 315.80,393.89 316.20,393.89 316.60,393.88 317.00,393.87 317.40,393.86 317.80,393.85 318.20,393.85 318.60,393.84 319.00,393.83 319.40,393.82 319.80,393.81 320.20,393.80 320.60,393.79 321.00,393.78 321.40,393.77 321.80,393.76 322.20,393.75 322.60,393.74 323.00,393.73 323.40,393.72 323.80,393.70 324.20,393.69 324.60,393.68 325.00,393.67 325.40,393.65 325.80,393.64 326.20,393.63 326.60,393.61 327.00,393.60 327.40,393.58 327.80,393.57 328.20,393.55 328.60,393.54 329.00,393.52 329.40,393.50 329.80,393.49 330.20,393.47 330.60,393.45 331.00,393.44 331.40,393.42 331.80,393.40 332.20,393.38 332.60,393.36 333.00,393.34 333.40,393.32 333.80,393.30 334.20,393.28 334.60,393.26 335.00,393.23 335.40,393.21 335.80,393.19 336.20,393.16 336.60,393.14 337.00,393.12 337.40,393.09 337.80,393.06 338.20,393.04 338.60,393.01 339.00,392.98 339.40,392.96 339.80,392.93 340.20,392.90 340.60,392.87 341.00,392.84 341.40,392.80 341.80,392.77 342.20,392.74 342.60,392.71 343.00,392.67 343.40,392.64 343.80,392.60 344.20,392.56 344.60,392.53 345.00,392.49 345.40,392.45 345.80,392.41 346.20,392.37 346.60,392.33 347.00,392.29 347.40,392.25 347.80,392.21 348.20,392.17 348.60,392.12 349.00,392.08 349.40,392.03 349.80,391.99 350.20,391.94 350.60,391.89 351.00,391.84 351.40,391.80 351.80,391.75 352.20,391.70 352.60,391.65 353.00,391.59 353.40,391.54 353.80,391.49 354.20,391.44 354.60,391.38 355.00,391.33 355.40,391.27 355.80,391.22 356.20,391.16 356.60,391.11 357.00,391.05 357.40,390.99 357.80,390.93 358.20,390.88 358.60,390.82 359.00,390.76 359.40,390.70 359.80,390.64 360.20,390.58 360.60,390.52 361.00,390.46 361.40,390.41 361.80,390.35 362.20,390.29 362.60,390.23 363.00,390.17 363.40,390.11 363.80,390.06 364.20,390.00 364.60,389.95 365.00,389.89 365.40,389.84 365.80,389.78 366.20,389.73 366.60,389.68 367.00,389.63 367.40,389.58 367.80,389.54 368.20,389.49 368.60,389.45 369.00,389.41 369.40,389.37 369.80,389.33 370.20,389.29 370.60,389.26 371.00,389.23 371.40,389.20 371.80,389.17 372.20,389.14 372.60,389.12 373.00,389.10 373.40,389.08 373.80,389.07 374.20,389.06 374.60,389.05 375.00,389.04 375.40,389.04 375.80,389.03 376.20,389.04 376.60,389.04 377.00,389.05 377.40,389.06 377.80,389.07 378.20,389.09 378.60,389.11 379.00,389.13 379.40,389.15 379.80,389.18 380.20,389.21 380.60,389.24 381.00,389.27 381.40,389.31 381.80,389.35 382.20,389.39 382.60,389.43 383.00,389.48 383.40,389.52 383.80,389.57 384.20,389.63 384.60,389.68 385.00,389.73 385.40,389.79 385.80,389.85 386.20,389.90 386.60,389.96 387.00,390.03 387.40,390.09 387.80,390.15 388.20,390.21 388.60,390.28 389.00,390.34 389.40,390.41 389.80,390.48 390.20,390.54 390.60,390.61 391.00,390.68 391.40,390.75 391.80,390.82 392.20,390.88 392.60,390.95 393.00,391.02 393.40,391.09 393.80,391.16 394.20,391.23 394.60,391.29 395.00,391.36 395.40,391.43 395.80,391.49 396.20,391.56 396.60,391.63 397.00,391.69 397.40,391.76 397.80,391.82 398.20,391.88 398.60,391.95 399.00,392.01 399.40,392.07 399.80,392.13 400.20,392.20 400.60,392.27 401.00,392.35 401.40,392.42 401.80,392.49 402.20,392.56 402.60,392.63 403.00,392.70 403.40,392.77 403.80,392.84 404.20,392.90 404.60,392.97 405.00,393.04 405.40,393.10 405.80,393.17 406.20,393.23 406.60,393.29 407.00,393.36 407.40,393.42 407.80,393.48 408.20,393.54 408.60,393.60 409.00,393.66 409.40,393.72 409.80,393.77 410.20,393.83 410.60,393.89 411.00,393.94 411.40,394.00 411.80,394.05 412.20,394.11 412.60,394.16 413.00,394.21 413.40,394.26 413.80,394.31 414.20,394.37 414.60,394.42 415.00,394.47 415.40,394.52 415.80,394.56 416.20,394.61 416.60,394.66 417.00,394.71 417.40,394.75 417.80,394.80 418.20,394.85 418.60,394.89 419.00,394.94 419.40,394.98 419.80,395.02 420.20,395.07 420.60,395.10 421.00,395.14 421.40,395.18 421.80,395.21 422.20,395.25 422.60,395.29 423.00,395.32 423.40,395.36 423.80,395.39 424.20,395.43 424.60,395.46 425.00,395.49 425.40,395.53 425.80,395.56 426.20,395.59 426.60,395.63 427.00,395.66 427.40,395.69 427.80,395.72 428.20,395.75 428.60,395.78 429.00,395.81 429.40,395.84 429.80,395.87 430.20,395.90 430.60,395.93 431.00,395.96 431.40,395.99 431.80,396.02 432.20,396.05 432.60,396.08 433.00,396.10 433.40,396.13 433.80,396.16 434.20,396.19 434.60,396.21 435.00,396.24 435.40,396.27 435.80,396.29 436.20,396.32 436.60,396.34 437.00,396.37 437.40,396.40 437.80,396.42 438.20,396.45 438.60,396.47 439.00,396.50 439.40,396.52 439.80,396.54 440.20,396.57 440.60,396.59 441.00,396.62 441.40,396.64 441.80,396.66 442.20,396.69 442.60,396.71 443.00,396.73 443.40,396.76 443.80,396.78 444.20,396.80 444.60,396.83 445.00,396.85 445.40,396.91 445.80,396.96 446.20,397.02 446.60,397.08 447.00,397.13 447.40,397.19 447.80,397.25 448.20,397.30 448.60,397.36 449.00,397.42 449.40,397.47 449.80,397.53 450.20,397.59 450.60,397.64 451.00,397.70 451.40,397.75 451.80,397.81 452.20,397.86 452.60,397.92 453.00,397.97 453.40,398.03 453.80,398.08 454.20,398.14 454.60,398.19 455.00,398.25 455.40,398.36 455.80,398.47 456.20,398.58 456.60,398.69 457.00,398.80 457.40,398.91 457.80,399.02 458.20,399.12 458.60,399.23 459.00,399.34 459.40,399.45 459.80,399.56 460.20,399.67 460.60,399.78 461.00,399.89 461.40,399.99 461.80,400.10 462.20,400.21 462.60,400.31 463.00,400.42 463.40,400.52 463.80,400.63 464.20,400.74 464.60,400.84 465.00,400.95 465.40,401.05 465.80,401.16 466.20,401.26 466.60,401.36 467.00,401.47 467.40,401.57 467.80,401.68 468.20,401.78 468.60,401.89 469.00,401.99 469.40,402.10 469.80,402.20 470.20,402.29 470.60,402.36 471.00,402.42 471.40,402.49 471.80,402.56 472.20,402.63 472.60,402.70 473.00,402.76 473.40,402.83 473.80,402.90 474.20,402.97 474.60,403.04 475.00,403.10 475.40,403.17 475.80,403.24 476.20,403.31 476.60,403.37 477.00,403.44 477.40,403.51 477.80,403.58 478.20,403.64 478.60,403.71 479.00,403.78 479.40,403.85 479.80,403.91 480.20,403.97 480.60,404.01 481.00,404.05 481.40,404.09 481.80,404.13 482.20,404.17 482.60,404.21 483.00,404.25 483.40,404.29 483.80,404.33 484.20,404.37 484.60,404.41 485.00,404.45 485.40,404.49 485.80,404.53 486.20,404.57 486.60,404.61 487.00,404.65 487.40,404.69 487.80,404.73 488.20,404.77 488.60,404.81 489.00,404.85 489.40,404.89 489.80,404.93 490.20,404.97 490.60,405.01 491.00,405.05 491.40,405.09 491.80,405.13 492.20,405.17 492.60,405.21 493.00,405.25 493.40,405.29 493.80,405.33 494.20,405.37 494.60,405.41 495.00,405.45 495.40,405.47 495.80,405.49 496.20,405.51 496.60,405.52 497.00,405.54 497.40,405.56 497.80,405.58 498.20,405.60 498.60,405.62 499.00,405.64 499.40,405.66 499.80,405.68 500.20,405.70 500.60,405.71 501.00,405.73 501.40,405.75 501.80,405.77 502.20,405.79 502.60,405.81 503.00,405.83 503.40,405.85 503.80,405.86 504.20,405.88 504.60,405.90 505.00,405.92 505.40,405.94 505.80,405.96 506.20,405.98 506.60,405.99 507.00,406.01 507.40,406.03 507.80,406.05 508.20,406.07 508.60,406.09 509.00,406.11 509.40,406.12 509.80,406.14 510.20,406.16 510.60,406.18 511.00,406.20 511.40,406.22 511.80,406.23 512.20,406.25 512.60,406.27 513.00,406.29 513.40,406.31 513.80,406.33 514.20,406.34 514.60,406.36 515.00,406.37 515.40,406.39 515.80,406.40 516.20,406.42 516.60,406.43 517.00,406.45 517.40,406.46 517.80,406.48 518.20,406.49 518.60,406.51 519.00,406.52 519.40,406.53 519.80,406.55 520.20,406.56 520.60,406.58 521.00,406.59 521.40,406.61 521.80,406.62 522.20,406.64 522.60,406.65 523.00,406.67 523.40,406.68 523.80,406.70 524.20,406.71 524.60,406.72 525.00,406.74 525.40,406.75 525.80,406.77 526.20,406.78 526.60,406.80 527.00,406.81 527.40,406.83 527.80,406.84 528.20,406.85 528.60,406.87 529.00,406.88 529.40,406.90 529.80,406.91 530.20,406.93 530.60,406.94 531.00,406.96 531.40,406.97 531.80,406.98" fill="none" stroke="#4a66d6" stroke-width="1.1"/>
<polyline points="296.60,394.80 297.00,394.81 297.40,394.81 297.80,394.82 298.20,394.82 298.60,394.83 299.00,394.83 299.40,394.84 299.80,394.84 300.20,394.85 300.60,394.86 301.00,394.86 301.40,394.87 301.80,394.87 302.20,394.88 302.60,394.88 303.00,394.89 303.40,394.89 303.80,394.90 304.20,394.91 304.60,394.91 305.00,394.92 305.40,394.92 305.80,394.93 306.20,394.93 306.60,394.94 307.00,394.94 307.40,394.95 307.80,394.95 308.20,394.96 308.60,394.97 309.00,394.97 309.40,394.98 309.80,394.98 310.20,394.99 310.60,394.99 311.00,395.00 311.40,395.00 311.80,395.01 312.20,395.02 312.60,395.02 313.00,395.03 313.40,395.03 313.80,395.04 314.20,395.04 314.60,395.05 315.00,395.05 315.40,395.06 315.80,395.07 316.20,395.07 316.60,395.08 317.00,395.08 317.40,395.09 317.80,395.09 318.20,395.10 318.60,395.10 319.00,395.11 319.40,395.12 319.80,395.12 320.20,395.13 320.60,395.13 321.00,395.14 321.40,395.14 321.80,395.15 322.20,395.15 322.60,395.16 323.00,395.16 323.40,395.17 323.80,395.18 324.20,395.18 324.60,395.19 325.00,395.19 325.40,395.20 325.80,395.20 326.20,395.21 326.60,395.21 327.00,395.22 327.40,395.23 327.80,395.23 328.20,395.24 328.60,395.24 329.00,395.25 329.40,395.25 329.80,395.26 330.20,395.26 330.60,395.27 331.00,395.28 331.40,395.28 331.80,395.29 332.20,395.29 332.60,395.30 333.00,395.30 333.40,395.31 333.80,395.31 334.20,395.32 334.60,395.33 335.00,395.33 335.40,395.34 335.80,395.34 336.20,395.35 336.60,395.35 337.00,395.36 337.40,395.36 337.80,395.37 338.20,395.38 338.60,395.38 339.00,395.39 339.40,395.39 339.80,395.40 340.20,395.40 340.60,395.41 341.00,395.41 341.40,395.42 341.80,395.42 342.20,395.43 342.60,395.43 343.00,395.44 343.40,395.44 343.80,395.44 344.20,395.45 344.60,395.45 345.00,395.46 345.40,395.46 345.80,395.47 346.20,395.47 346.60,395.48 347.00,395.48 347.40,395.49 347.80,395.49 348.20,395.50 348.60,395.50 349.00,395.50 349.40,395.51 349.80,395.51 350.20,395.52 350.60,395.52 351.00,395.53 351.40,395.53 351.80,395.54 352.20,395.54 352.60,395.55 353.00,395.55 353.40,395.56 353.80,395.56 354.20,395.57 354.60,395.57 355.00,395.57 355.40,395.58 355.80,395.58 356.20,395.59 356.60,395.59 357.00,395.60 357.40,395.60 357.80,395.61 358.20,395.61 358.60,395.62 359.00,395.62 359.40,395.63 359.80,395.63 360.20,395.64 360.60,395.64 361.00,395.64 361.40,395.65 361.80,395.65 362.20,395.66 362.60,395.66 363.00,395.67 363.40,395.67 363.80,395.68 364.20,395.68 364.60,395.69 365.00,395.69 365.40,395.70 365.80,395.70 366.20,395.71 366.60,395.71 367.00,395.71 367.40,395.72 367.80,395.72 368.20,395.73 368.60,395.73 369.00,395.74 369.40,395.74 369.80,395.75 370.20,395.75 370.60,395.76 371.00,395.76 371.40,395.77 371.80,395.77 372.20,395.78 372.60,395.78 373.00,395.79 373.40,395.79 373.80,395.79 374.20,395.80 374.60,395.80 375.00,395.81 375.40,395.81 375.80,395.82 376.20,395.82 376.60,395.83 377.00,395.83 377.40,395.84 377.80,395.84 378.20,395.85 378.60,395.85 379.00,395.86 379.40,395.86 379.80,395.86 380.20,395.87 380.60,395.87 381.00,395.88 381.40,395.88 381.80,395.89 382.20,395.89 382.60,395.90 383.00,395.90 383.40,395.91 383.80,395.91 384.20,395.92 384.60,395.92 385.00,395.93 385.40,395.93 385.80,395.93 386.20,395.94 386.60,395.94 387.00,395.95 387.40,395.95 387.80,395.96 388.20,395.96 388.60,395.97 389.00,395.97 389.40,395.98 389.80,395.98 390.20,395.99 390.60,395.99 391.00,396.00 391.40,396.00 391.80,396.00 392.20,396.01 392.60,396.01 393.00,396.02 393.40,396.02 393.80,396.03 394.20,396.03 394.60,396.04 395.00,396.04 395.40,396.05 395.80,396.05 396.20,396.06 396.60,396.06 397.00,396.06 397.40,396.07 397.80,396.07 398.20,396.08 398.60,396.08 399.00,396.09 399.40,396.09 399.80,396.10 400.20,396.11 400.60,396.13 401.00,396.15 401.40,396.16 401.80,396.18 402.20,396.20 402.60,396.22 403.00,396.24 403.40,396.25 403.80,396.27 404.20,396.29 404.60,396.31 405.00,396.33 405.40,396.34 405.80,396.36 406.20,396.38 406.60,396.40 407.00,396.42 407.40,396.43 407.80,396.45 408.20,396.47 408.60,396.49 409.00,396.50 409.40,396.52 409.80,396.54 410.20,396.56 410.60,396.58 411.00,396.60 411.40,396.61 411.80,396.63 412.20,396.65 412.60,396.67 413.00,396.69 413.40,396.70 413.80,396.72 414.20,396.74 414.60,396.76 415.00,396.77 415.40,396.79 415.80,396.81 416.20,396.83 416.60,396.85 417.00,396.87 417.40,396.88 417.80,396.90 418.20,396.92 418.60,396.94 419.00,396.95 419.40,396.97 419.80,396.99 420.20,397.01 420.60,397.02 421.00,397.03 421.40,397.04 421.80,397.06 422.20,397.07 422.60,397.08 423.00,397.10 423.40,397.11 423.80,397.12 424.20,397.13 424.60,397.15 425.00,397.16 425.40,397.17 425.80,397.19 426.20,397.20 426.60,397.21 427.00,397.22 427.40,397.24 427.80,397.25 428.20,397.26 428.60,397.28 429.00,397.29 429.40,397.30 429.80,397.31 430.20,397.33 430.60,397.34 431.00,397.35 431.40,397.36 431.80,397.38 432.20,397.39 432.60,397.40 433.00,397.42 433.40,397.43 433.80,397.44 434.20,397.45 434.60,397.47 435.00,397.48 435.40,397.49 435.80,397.51 436.20,397.52 436.60,397.53 437.00,397.54 437.40,397.56 437.80,397.57 438.20,397.58 438.60,397.60 439.00,397.61 439.40,397.62 439.80,397.63 440.20,397.65 440.60,397.66 441.00,397.67 441.40,397.68 441.80,397.70 442.20,397.71 442.60,397.72 443.00,397.74 443.40,397.75 443.80,397.76 444.20,397.77 444.60,397.79 445.00,397.80 445.40,397.85 445.80,397.90 446.20,397.94 446.60,397.99 447.00,398.04 447.40,398.09 447.80,398.14 448.20,398.18 448.60,398.23 449.00,398.28 449.40,398.33 449.80,398.38 450.20,398.42 450.60,398.47 451.00,398.52 451.40,398.57 451.80,398.62 452.20,398.66 452.60,398.71 453.00,398.76 453.40,398.81 453.80,398.86 454.20,398.90 454.60,398.95 455.00,399.00 455.40,399.10 455.80,399.21 456.20,399.31 456.60,399.41 457.00,399.51 457.40,399.62 457.80,399.72 458.20,399.82 458.60,399.93 459.00,400.03 459.40,400.13 459.80,400.23 460.20,400.34 460.60,400.44 461.00,400.54 461.40,400.65 461.80,400.75 462.20,400.85 462.60,400.95 463.00,401.05 463.40,401.15 463.80,401.25 464.20,401.35 464.60,401.45 465.00,401.55 465.40,401.65 465.80,401.75 466.20,401.85 466.60,401.95 467.00,402.05 467.40,402.15 467.80,402.25 468.20,402.35 468.60,402.45 469.00,402.55 469.40,402.65 469.80,402.75 470.20,402.83 470.60,402.90 471.00,402.96 471.40,403.02 471.80,403.09 472.20,403.15 472.60,403.22 473.00,403.28 473.40,403.34 473.80,403.41 474.20,403.47 474.60,403.54 475.00,403.60 475.40,403.66 475.80,403.73 476.20,403.79 476.60,403.86 477.00,403.92 477.40,403.98 477.80,404.05 478.20,404.11 478.60,404.18 479.00,404.24 479.40,404.30 479.80,404.37 480.20,404.42 480.60,404.46 481.00,404.49 481.40,404.53 481.80,404.57 482.20,404.61 482.60,404.64 483.00,404.68 483.40,404.72 483.80,404.75 484.20,404.79 484.60,404.83 485.00,404.87 485.40,404.90 485.80,404.94 486.20,404.98 486.60,405.02 487.00,405.05 487.40,405.09 487.80,405.13 488.20,405.17 488.60,405.20 489.00,405.24 489.40,405.28 489.80,405.31 490.20,405.35 490.60,405.39 491.00,405.43 491.40,405.46 491.80,405.50 492.20,405.54 492.60,405.58 493.00,405.61 493.40,405.65 493.80,405.69 494.20,405.73 494.60,405.76 495.00,405.80 495.40,405.82 495.80,405.83 496.20,405.85 496.60,405.87 497.00,405.88 497.40,405.90 497.80,405.92 498.20,405.93 498.60,405.95 499.00,405.97 499.40,405.99 499.80,406.00 500.20,406.02 500.60,406.04 501.00,406.05 501.40,406.07 501.80,406.09 502.20,406.10 502.60,406.12 503.00,406.14 503.40,406.15 503.80,406.17 504.20,406.19 504.60,406.20 505.00,406.22 505.40,406.24 505.80,406.25 506.20,406.27 506.60,406.29 507.00,406.31 507.40,406.32 507.80,406.34 508.20,406.36 508.60,406.37 509.00,406.39 509.40,406.41 509.80,406.42 510.20,406.44 510.60,406.46 511.00,406.47 511.40,406.49 511.80,406.51 512.20,406.52 512.60,406.54 513.00,406.56 513.40,406.57 513.80,406.59 514.20,406.61 514.60,406.62 515.00,406.63 515.40,406.65 515.80,406.66 516.20,406.67 516.60,406.69 517.00,406.70 517.40,406.71 517.80,406.73 518.20,406.74 518.60,406.75 519.00,406.77 519.40,406.78 519.80,406.79 520.20,406.81 520.60,406.82 521.00,406.83 521.40,406.85 521.80,406.86 522.20,406.87 522.60,406.89 523.00,406.90 523.40,406.91 523.80,406.93 524.20,406.94 524.60,406.95 525.00,406.97 525.40,406.98 525.80,406.99 526.20,407.01 526.60,407.02 527.00,407.03 527.40,407.05 527.80,407.06 528.20,407.07 528.60,407.09 529.00,407.10 529.40,407.11 529.80,407.13 530.20,407.14 530.60,407.15 531.00,407.17 531.40,407.18 531.80,407.19" fill="none" stroke="#7272de" stroke-width="1.1"/>
<polyline points="296.60,393.86 297.00,393.86 297.40,393.86 297.80,393.85 298.20,393.85 298.60,393.85 299.00,393.85 299.40,393.84 299.80,393.84 300.20,393.84 300.60,393.83 301.00,393.83 301.40,393.83 301.80,393.82 302.20,393.82 302.60,393.82 303.00,393.81 303.40,393.81 303.80,393.80 304.20,393.80 304.60,393.80 305.00,393.79 305.40,393.79 305.80,393.78 306.20,393.78 306.60,393.77 307.00,393.77 307.40,393.76 307.80,393.75 308.20,393.75 308.60,393.74 309.00,393.74 309.40,393.73 309.80,393.72 310.20,393.72 310.60,393.71 311.00,393.70 311.40,393.69 311.80,393.69 312.20,393.68 312.60,393.67 313.00,393.66 313.40,393.65 313.80,393.65 314.20,393.64 314.60,393.63 315.00,393.62 315.40,393.61 315.80,393.60 316.20,393.59 316.60,393.58 317.00,393.57 317.40,393.55 317.80,393.54 318.20,393.53 318.60,393.52 319.00,393.51 319.40,393.49 319.80,393.48 320.20,393.47 320.60,393.45 321.00,393.44 321.40,393.43 321.80,393.41 322.20,393.40 322.60,393.38 323.00,393.36 323.40,393.35 323.80,393.33 324.20,393.31 324.60,393.29 325.00,393.28 325.40,393.26 325.80,393.24 326.20,393.22 326.60,393.20 327.00,393.18 327.40,393.16 327.80,393.13 328.20,393.11 328.60,393.09 329.00,393.07 329.40,393.04 329.80,393.02 330.20,392.99 330.60,392.97 331.00,392.94 331.40,392.91 331.80,392.88 332.20,392.85 332.60,392.82 333.00,392.79 333.40,392.76 333.80,392.73 334.20,392.70 334.60,392.67 335.00,392.63 335.40,392.60 335.80,392.56" fill="none" stroke="#8e9c80" stroke-width="2.0" stroke-linejoin="round" stroke-opacity="0.8"/>
<polyline points="334.20,392.70 334.60,392.67 335.00,392.63 335.40,392.60 335.80,392.56 336.20,392.53 336.60,392.49 337.00,392.45 337.40,392.41 337.80,392.37 338.20,392.33 338.60,392.29 339.00,392.24 339.40,392.20 339.80,392.15 340.20,392.11 340.60,392.06 341.00,392.01 341.40,391.96 341.80,391.91 342.20,391.85 342.60,391.80 343.00,391.74 343.40,391.69 343.80,391.63 344.20,391.57 344.60,391.51 345.00,391.45 345.40,391.39 345.80,391.32 346.20,391.26 346.60,391.19 347.00,391.12 347.40,391.05 347.80,390.98 348.20,390.91 348.60,390.83 349.00,390.76 349.40,390.68 349.80,390.60 350.20,390.52 350.60,390.44 351.00,390.36 351.40,390.27 351.80,390.19 352.20,390.10 352.60,390.01 353.00,389.92 353.40,389.83 353.80,389.73 354.20,389.64 354.60,389.54 355.00,389.44 355.40,389.34 355.80,389.24 356.20,389.14 356.60,389.03 357.00,388.93 357.40,388.82 357.80,388.71 358.20,388.60 358.60,388.49 359.00,388.38 359.40,388.26 359.80,388.15 360.20,388.03 360.60,387.91 361.00,387.79 361.40,387.67 361.80,387.55 362.20,387.43 362.60,387.31 363.00,387.18 363.40,387.06 363.80,386.93 364.20,386.81 364.60,386.68 365.00,386.56 365.40,386.43 365.80,386.30 366.20,386.18 366.60,386.05 367.00,385.92 367.40,385.79 367.80,385.67 368.20,385.54 368.60,385.41 369.00,385.29 369.40,385.16 369.80,385.04 370.20,384.92 370.60,384.79 371.00,384.67 371.40,384.55 371.80,384.43 372.20,384.32 372.60,384.20 373.00,384.08 373.40,383.97 373.80,383.86 374.20,383.75 374.60,383.64 375.00,383.53 375.40,383.42 375.80,383.32 376.20,383.22 376.60,383.12 377.00,383.02 377.40,382.92 377.80,382.83 378.20,382.74 378.60,382.64 379.00,382.56 379.40,382.47 379.80,382.38 380.20,382.30 380.60,382.22 381.00,382.14 381.40,382.06 381.80,381.98 382.20,381.91 382.60,381.83 383.00,381.76 383.40,381.69 383.80,381.62 384.20,381.55 384.60,381.49 385.00,381.42 385.40,381.35 385.80,381.29 386.20,381.23 386.60,381.17 387.00,381.11 387.40,381.05 387.80,380.99 388.20,380.93 388.60,380.87 389.00,380.82 389.40,380.76 389.80,380.70 390.20,380.65 390.60,380.59 391.00,380.54 391.40,380.49 391.80,380.43 392.20,380.38 392.60,380.33 393.00,380.27 393.40,380.22 393.80,380.17 394.20,380.12 394.60,380.07 395.00,380.02 395.40,379.97 395.80,379.92 396.20,379.87 396.60,379.82 397.00,379.77 397.40,379.72 397.80,379.67 398.20,379.62 398.60,379.58 399.00,379.53 399.40,379.48 399.80,379.44 400.20,379.40 400.60,379.37 401.00,379.33 401.40,379.30 401.80,379.27 402.20,379.24 402.60,379.22 403.00,379.19 403.40,379.16 403.80,379.13 404.20,379.11 404.60,379.08 405.00,379.06 405.40,379.03 405.80,379.01 406.20,378.99 406.60,378.97 407.00,378.95 407.40,378.93 407.80,378.91 408.20,378.89 408.60,378.88 409.00,378.86 409.40,378.85 409.80,378.83 410.20,378.82 410.60,378.81 411.00,378.80 411.40,378.79 411.80,378.78 412.20,378.78 412.60,378.77 413.00,378.77 413.40,378.76 413.80,378.76 414.20,378.76 414.60,378.76 415.00,378.76 415.40,378.76 415.80,378.77 416.20,378.77 416.60,378.78 417.00,378.78 417.40,378.79 417.80,378.80 418.20,378.80 418.60,378.81 419.00,378.82 419.40,378.83 419.80,378.84 420.20,378.85 420.60,378.86 421.00,378.86 421.40,378.87 421.80,378.87 422.20,378.88 422.60,378.88 423.00,378.88 423.40,378.89 423.80,378.89 424.20,378.89 424.60,378.88 425.00,378.88 425.40,378.87 425.80,378.86 426.20,378.84 426.60,378.82 427.00,378.80 427.40,378.77 427.80,378.73 428.20,378.68 428.60,378.63 429.00,378.57 429.40,378.50 429.80,378.41 430.20,378.32 430.60,378.21 431.00,378.08 431.40,377.94 431.80,377.78 432.20,377.60 432.60,377.40 433.00,377.17 433.40,376.92 433.80,376.64 434.20,376.33 434.60,375.99 435.00,375.61 435.40,375.20 435.80,374.75 436.20,374.25 436.60,373.72 437.00,373.20 437.40,372.31 437.80,371.42 438.20,370.51 438.60,369.55 439.00,368.50 439.40,367.33 439.80,366.07 440.20,364.74 440.60,363.38 441.00,362.00 441.40,360.63 441.80,359.25 442.20,357.85 442.60,356.41 443.00,354.93 443.40,353.39 443.80,351.77 444.20,350.08 444.60,348.32 445.00,346.53 445.40,344.72 445.80,342.90 446.20,341.10 446.60,339.32 447.00,337.54 447.40,335.72 447.80,333.86 448.20,331.90 448.60,329.70 449.00,327.08 449.40,324.41 449.80,322.12 450.20,320.50 450.60,319.60 451.00,319.10 451.40,318.94 451.80,318.94 452.20,318.98 452.60,319.01 453.00,319.10 453.40,319.25 453.80,319.44 454.20,319.66 454.60,319.89 455.00,320.12 455.40,320.33 455.80,320.51 456.20,320.68 456.60,320.83 457.00,320.98 457.40,321.13 457.80,321.28 458.20,321.41 458.60,321.53 459.00,321.64 459.40,321.72 459.80,321.78 460.20,321.82 460.60,321.88 461.00,321.95 461.40,322.00 461.80,322.01 462.20,321.93 462.60,321.73 463.00,321.37 463.40,320.84 463.80,320.16 464.20,319.36 464.60,318.42 465.00,317.33 465.40,316.07 465.80,314.67 466.20,313.11 466.60,311.40 467.00,309.51 467.40,307.46 467.80,305.30" fill="none" stroke="#c89a7c" stroke-width="2.4" stroke-linejoin="round" stroke-opacity="0.85"/>
<polyline points="297.10,396.42 299.10,396.40 301.22,397.68 303.36,397.07 304.67,394.18 306.42,393.13 307.83,397.09 309.80,399.03 311.14,393.56 312.34,393.90 313.76,396.79 315.25,395.28 317.12,399.50 319.01,396.74 320.51,393.49 321.86,396.53 323.66,398.12 325.20,396.17 326.88,394.60 328.79,399.17 330.01,396.02 331.23,393.83 333.00,394.80 334.39,392.85 336.34,395.96 337.89,393.97 339.86,397.24 341.86,394.98 343.09,395.19 344.39,392.34 346.20,397.10 347.74,396.86 349.48,393.84 351.00,392.94 352.28,392.54 354.17,395.83 355.53,391.32 357.71,392.88 359.32,391.13 361.11,393.19 362.77,390.91 364.03,392.69 365.26,390.45 367.30,390.20 369.23,383.70 371.06,382.42 372.37,380.48 373.71,381.90 375.21,379.77 377.41,380.97 379.58,378.72 381.27,379.59 382.95,377.35 384.56,376.44 386.13,379.89 388.29,377.98 389.99,376.47 391.28,376.00 393.26,378.36 394.82,377.80 396.80,377.15 398.66,377.21 400.23,379.30 401.71,378.22 403.68,378.98 405.17,380.01 407.02,378.30 408.23,378.10 409.68,378.59 411.35,379.19 413.19,379.08 414.74,378.40 416.68,379.22 418.23,379.31 420.30,378.68 422.48,379.89 424.19,378.01 425.56,379.35 427.70,377.64 429.59,378.43 431.52,375.45 433.50,376.21 435.36,373.89 437.19,373.98 439.03,369.40 440.25,364.16 441.89,359.10 443.31,353.96 445.14,345.33 446.82,338.03 448.07,332.11 449.59,322.88 450.98,318.56 452.65,318.88 454.46,319.92 455.90,321.04 457.10,320.90 458.57,321.42 459.89,322.19 461.46,321.45 463.28,320.54 465.02,317.07 466.80,311.03 468.82,299.37 470.83,288.16 472.40,278.55 474.20,268.96 476.36,273.82 478.17,281.66 480.26,294.50 481.57,304.54 483.38,318.30 485.21,335.40 486.79,348.20 488.21,359.64 490.39,374.47 492.55,387.60 494.34,388.71 496.52,392.82 498.14,393.86 500.32,396.78 501.81,397.91 503.13,399.58 504.78,399.13 506.76,402.88 507.97,402.03 509.44,404.51 511.43,401.78 512.89,401.70 515.08,402.81 516.89,404.00 518.74,404.92 520.68,402.85 522.64,403.95 524.37,404.28 525.87,405.33 527.53,404.64 529.48,405.89 530.72,404.35" fill="none" stroke="#6a2e38" stroke-width="0.9" stroke-linejoin="round"/>
<polyline points="462.20,321.93 462.60,321.73 463.00,321.37 463.40,320.84 463.80,320.16 464.20,319.36 464.60,318.42 465.00,317.33 465.40,316.07 465.80,314.67 466.20,313.11 466.60,311.40 467.00,309.51 467.40,307.46 467.80,305.30 468.20,303.05 468.60,300.75 469.00,298.43 469.40,296.11 469.80,293.83 470.20,291.58 470.60,289.32 471.00,287.04 471.40,284.74 471.80,282.44 472.20,280.14 472.60,277.87 473.00,275.63 473.40,273.45 473.80,271.18 474.20,268.88 474.60,267.42 475.00,267.31 475.40,268.50 475.80,270.49 476.20,272.52 476.60,274.36 477.00,276.14 477.40,277.98 477.80,279.93 478.20,282.03 478.60,284.30 479.00,286.74 479.40,289.31 479.80,291.96 480.20,294.69 480.60,297.48 481.00,300.33 481.40,303.23 481.80,306.19 482.20,309.21 482.60,312.30 483.00,315.52 483.40,318.88 483.80,322.35 484.20,325.89 484.60,329.47 485.00,333.04 485.40,336.57 485.80,340.01 486.20,343.37 486.60,346.70 487.00,350.05 487.40,353.36 487.80,356.61 488.20,359.78 488.60,362.83 489.00,365.72 489.40,368.47 489.80,371.17 490.20,373.83 490.60,376.39 491.00,378.76 491.40,380.89 491.80,382.76 492.20,384.39 492.60,385.80 493.00,386.95 493.40,387.96 493.80,388.84 494.20,389.61 494.60,390.27 495.00,390.88 495.40,391.44 495.80,391.95 496.20,392.45 496.60,392.93 497.00,393.40 497.40,393.88 497.80,394.34 498.20,394.80 498.60,395.21 499.00,395.62 499.40,395.99 499.80,396.37 500.20,396.71 500.60,397.06 501.00,397.38 501.40,397.70 501.80,398.01 502.20,398.31 502.60,398.61 503.00,398.90 503.40,399.18 503.80,399.46 504.20,399.74 504.60,400.01 505.00,400.27 505.40,400.53 505.80,400.77 506.20,401.01 506.60,401.23 507.00,401.43 507.40,401.62 507.80,401.80 508.20,401.97 508.60,402.12 509.00,402.27 509.40,402.40 509.80,402.53 510.20,402.66 510.60,402.77 511.00,402.89 511.40,402.99 511.80,403.10 512.20,403.20 512.60,403.29 513.00,403.38 513.40,403.47 513.80,403.55 514.20,403.63 514.60,403.71 515.00,403.79 515.40,403.86 515.80,403.94 516.20,404.01 516.60,404.07 517.00,404.14 517.40,404.21 517.80,404.27 518.20,404.33 518.60,404.40 519.00,404.46 519.40,404.51 519.80,404.57 520.20,404.62 520.60,404.67 521.00,404.72 521.40,404.77 521.80,404.82 522.20,404.86 522.60,404.90 523.00,404.94 523.40,404.98 523.80,405.01 524.20,405.05 524.60,405.08 525.00,405.12 525.40,405.15 525.80,405.18 526.20,405.21 526.60,405.24 527.00,405.27 527.40,405.30 527.80,405.33 528.20,405.36 528.60,405.39 529.00,405.42 529.40,405.44 529.80,405.47 530.20,405.50 530.60,405.53 531.00,405.56 531.40,405.59 531.80,405.60" fill="none" stroke="#76784e" stroke-width="1.8" stroke-linejoin="round"/>
<line x1="383.1" y1="375.8" x2="373.42" y2="340.73" stroke="#999" stroke-width="0.7"/>
<polygon points="372.2,336.3 374.68,340.39 372.17,341.08" fill="#111"/>
<line x1="408.7" y1="375.8" x2="399.66" y2="337.58" stroke="#999" stroke-width="0.7"/>
<polygon points="398.6,333.1 400.92,337.28 398.39,337.88" fill="#111"/>
<line x1="450.5" y1="317.1" x2="445.51" y2="296.96" stroke="#777" stroke-width="0.7"/>
<polygon points="444.4,292.5 446.87,296.63 444.15,297.30" fill="#111"/>
<line x1="478.7" y1="271.4" x2="489.16" y2="260.86" stroke="#777" stroke-width="0.7"/>
<polygon points="492.4,257.6 490.15,261.85 488.17,259.88" fill="#111"/>
</svg></body></html>
